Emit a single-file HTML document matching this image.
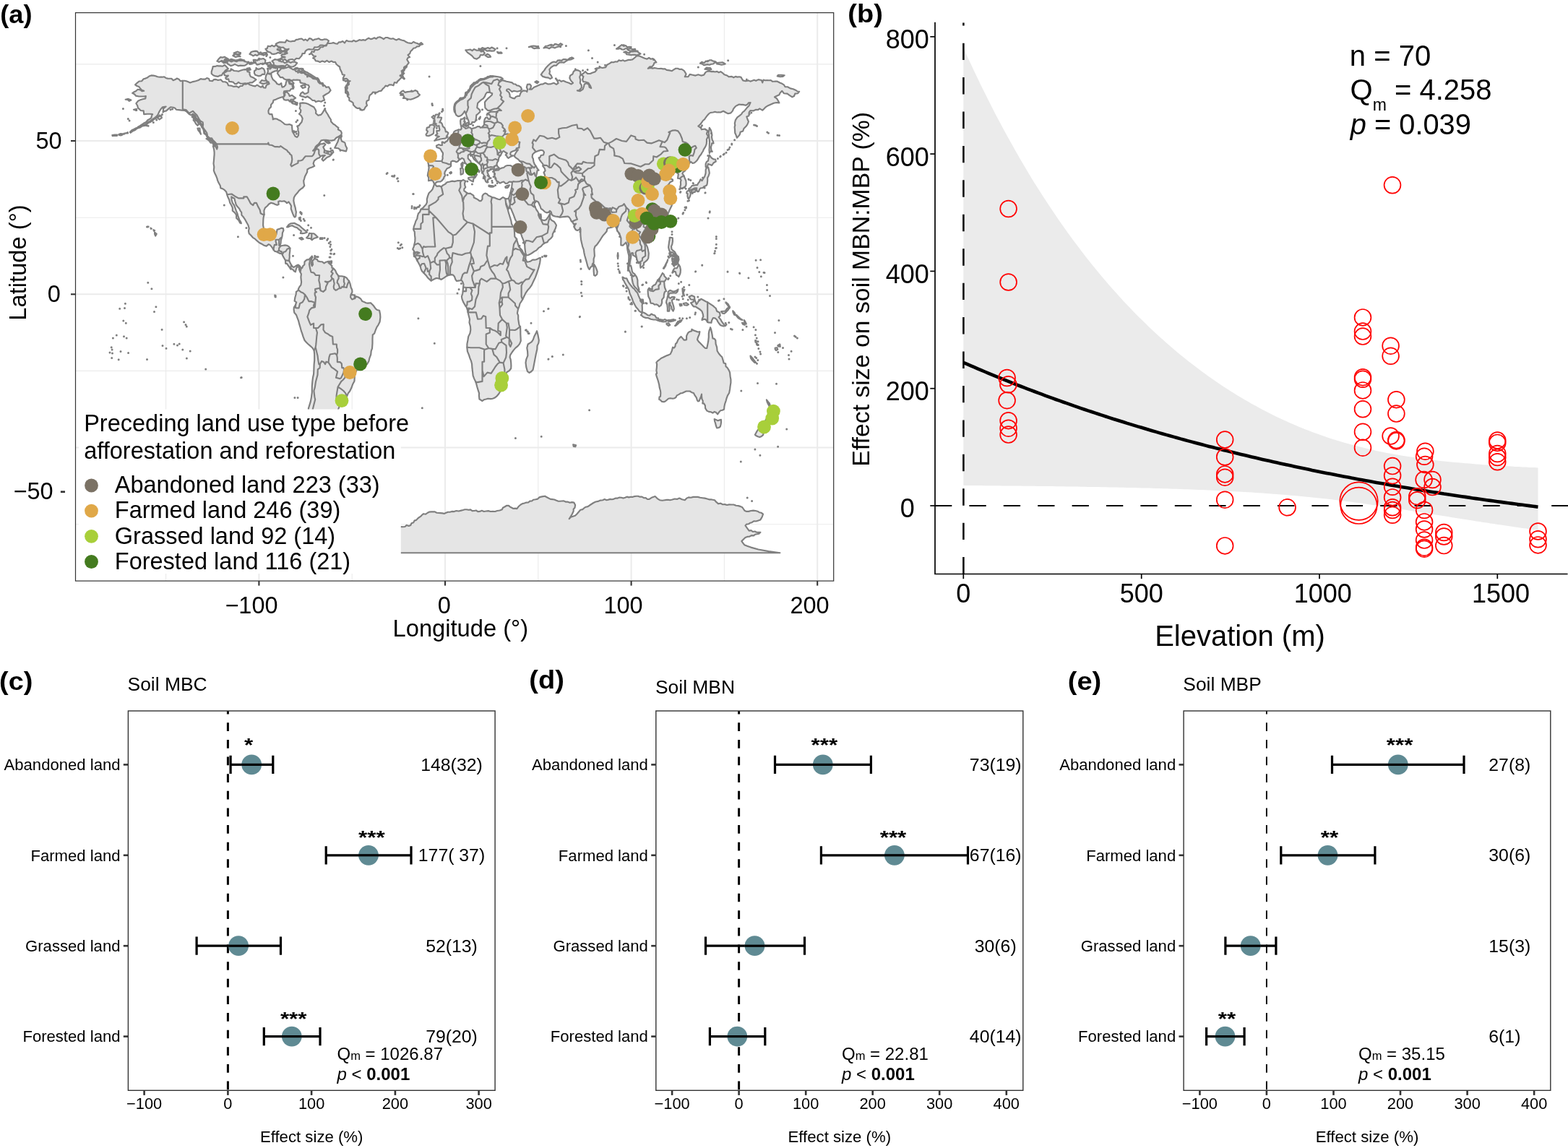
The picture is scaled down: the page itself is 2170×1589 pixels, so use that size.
<!DOCTYPE html>
<html lang="en"><head><meta charset="utf-8"><title>Figure</title>
<style>html,body{margin:0;padding:0;background:#fff}svg{display:block}text{font-family:"Liberation Sans", sans-serif;fill:#000}</style>
</head><body>
<svg width="2170" height="1589" viewBox="0 0 2170 1589">
<rect width="2170" height="1589" fill="#fff"/>
<g id="panel-a">
<clipPath id="clipA"><rect x="104.5" y="17.6" width="1049.2" height="786.5"/></clipPath>
<g clip-path="url(#clipA)">
<line x1="104.5" x2="1153.7" y1="88.9" y2="88.9" stroke="#ebebeb" stroke-width="1.1"/>
<line x1="104.5" x2="1153.7" y1="301.2" y2="301.2" stroke="#ebebeb" stroke-width="1.1"/>
<line x1="104.5" x2="1153.7" y1="513.4" y2="513.4" stroke="#ebebeb" stroke-width="1.1"/>
<line x1="104.5" x2="1153.7" y1="725.7" y2="725.7" stroke="#ebebeb" stroke-width="1.1"/>
<line x1="229.6" x2="229.6" y1="17.6" y2="804.1" stroke="#ebebeb" stroke-width="1.1"/>
<line x1="487.2" x2="487.2" y1="17.6" y2="804.1" stroke="#ebebeb" stroke-width="1.1"/>
<line x1="744.8" x2="744.8" y1="17.6" y2="804.1" stroke="#ebebeb" stroke-width="1.1"/>
<line x1="1002.4" x2="1002.4" y1="17.6" y2="804.1" stroke="#ebebeb" stroke-width="1.1"/>
<line x1="104.5" x2="1153.7" y1="195" y2="195" stroke="#ebebeb" stroke-width="2"/>
<line x1="104.5" x2="1153.7" y1="407.3" y2="407.3" stroke="#ebebeb" stroke-width="2"/>
<line x1="104.5" x2="1153.7" y1="619.6" y2="619.6" stroke="#ebebeb" stroke-width="2"/>
<line x1="358.4" x2="358.4" y1="17.6" y2="804.1" stroke="#ebebeb" stroke-width="2"/>
<line x1="616" x2="616" y1="17.6" y2="804.1" stroke="#ebebeb" stroke-width="2"/>
<line x1="873.6" x2="873.6" y1="17.6" y2="804.1" stroke="#ebebeb" stroke-width="2"/>
<line x1="1131.2" x2="1131.2" y1="17.6" y2="804.1" stroke="#ebebeb" stroke-width="2"/>
<g fill="#e5e5e5" stroke="#7f7f7f" stroke-width="2.15" stroke-linejoin="round" stroke-linecap="round">
<path d="M183.2 128.8l2.2-1.5l2.5-1.1l2.8-2.4l3.6 0.7l2.2 1.7l2.7-0.4l-2.9-1.1l-2.2-2.3l-1.9-2.5l-2.7-0.9l-2.4-1.7l2.6-2.5l2.8-2.3l3.6-0.3l2.6-2.9l2.6-0.7l2.5-1l2.6-2.1l2.9-1.1l3.3 0.2l2.8 0.6l2.6 1.1l3.2 0.4l3.2 0l2.9-0.4l2.3 1.7l2.5 0.6l2.7 0.2l2.6 0l2.3 2.4l2.8-1.1l2.4-1.6l2.7 1.2l2 2.5l3.2-0.4l2.6-0.1l2.5 0.5l2.6 1.1l2.6 1.1l3.9-1.3l3.8-0.9l3.9-1.2l3-1.9l3.4 0.6l2.9 0l2.3-1.7l2.8 1l1 2.8l3.9 0.4l1.8-2.1l3.1-0.2l2.8 1.1l3.8-0.8l2.7 2.9l3.4 0.2l3 1.5l1.5 3.4l3.7 0.4l3.8 1.3l3.9-0.5l2.7 1.7l2.4-2.1l2.6 0l2.6-2.9l2.7 0.5l2.4-1.4l2.6 2.1l3.9 1.3l3.8 0.8l2.6-1.9l2.6 1.9l2.9 1.4l2.3-2.2l1 2.7l2.8 0.3l1.3-3.8l3.9-1.7l-0.9-2.7l-2.5-1.2l-1.8-3.4l0.8-4.2l1.5-2.6l2.9-0.4l2.8 1.2l0.3 3.1l2 4.2l2.6 2.1l1.8 1.7l1.3 2.2l3.2 1.1l2.7-2l0.4 2.8l0.9 2.7l2.6-0.8l2.1-2.4l0.5-3.1l1.2-3.4l3.3-0.9l3.2 1.3l1.5 2l1.6 1.8l-1.7 2.3l-0.1 2.8l1.3 2.5l-3.3 0.4l-1.9 2.6l-3.9 0l-3.8 0.4l-0.6 2.9l1.9 2.2l-1.3 2.4l-2.6 0.6l-3.9 1.3l-2.5 0.8l-2.6 1.3l-3.1 1.1l-0.8 3.2l-2.6 2.9l-0.2 3.3l-2.3 2.2l-1.2 3.1l0.4 3.3l1.5 1.3l3.1 0l0.6 2.6l0.7 2.5l0 2.1l2.5-1.1l2.7 0.3l2.5 1.4l2.6 1.1l1.9 1.5l2 1.5l2.2 2l2.9 0.5l3.6-0.4l3.4 1.3l0.3 4.6l0.5 4.3l1.8 3l2 3.4l2.6 1.2l1.8-2.5l0.3-4.3l-1-2.9l0.2-3l-1.3-2.6l2.5-0.7l1.4-2.2l2.5-3l1.1-4.7l-1.8-3.8l-2.9-2.5l1.9-2.2l0.5-2.9l-1.8-2.6l1-3l-0.5-4.2l3.8-0.4l3.9 0.4l3.9 1.3l3.8 2.1l3.9 2.1l2.1 3.4l0.9 2.5l-0.4 2.6l3.3 3l3.6-0.9l2.1-2.1l2-3.4l1.6-2.5l1.5 3.8l2.6 3.8l1.2 2.4l1.4 2.3l1.6 2.3l0.2 2.8l3.3 3.4l2.2 1.2l1.7 1.7l3.1 2.2l-0.5 2.5l3.8 2.1l1.1 2.5l-0.3 2.6l-3.3 2.2l-3.9 2.1l-2.6 2.9l-3.8 0.9l-3.9-0.4l-3.9-0.5l-3.2 0l-3.2 0.5l-2.6 3.8l-1.6 2l-2.2 1.4l-1.7 1.9l-0.9 2.3l-2.6 3l2.6-0.8l2.2-2.6l1.6-3l2.1-1.2l1.8-1.7l2.6-0.2l2.6-0.7l1.8 1.7l-3.1 3.4l1.8 3.8l-0.5 3.9l3.1 0.8l3.3 1.3l3.1 0.8l3.3-3.4l-1-2.9l-2.6 0.8l0.6 2.5l0.5 2.6l-2.6 2.5l-3.9 1.7l-2.6 2.6l-2.5 2.1l-1.8-2.1l1.8-3.4l2.5-2.1l-3.8 0.4l-2.6 0.8l-0.8 1.7l-3.1 1.3l-2.5 1.7l-2.1 1.7l-1.3 3.8l1.6 3.4l-3.4 1.7l-3.8 1.3l-2.6 1.7l-0.3 3.8l-1.8 3.4l-1.3 2.6l-1 3.8l-0.8 2.1l0.3 3l0.8 3.8l-2.4 3l-2.5 1.7l-2.6 2.1l-2.1 3l-3.1 3.4l-1.8 3.4l-0.5 4.2l1 5.1l1.3 4.2l0.6 3.3l0.7 3.1l-0.4 2.8l-0.1 2.7l-1.3 1.7l-1.3-1.2l-1.5-3.4l-1.3-3.4l-1.3-3.9l0.3-3.8l-1.6-2.9l-1.8-2.6l-2.6 1.7l-1.5-1.7l-2.3-1.3l-3.1 0.5l-2.8-0.5l-2.1 0.9l0.5 3.8l-2.1 0.9l-2.5-0.9l-2.9-1.3l-3.1-0.8l-3 1.7l-2.1 2.5l-3.1 2.6l-1.5 3.8l0.2 5.5l-1 4.3l-0.3 4.2l-0.2 6.4l1 5.1l1 4.2l1.8 4.3l2.1 2.5l2.6 2.1l2.5-0.8l3.1-0.9l2.6-1.2l1.6-2.6l0.7-4.2l0.5-2.6l3.1-0.8l2.6-1.3l2.6 0.4l0.5 3l-1.5 3.4l-0.3 4.2l-0.8 3l-1 3l-0.3 4.2l-1.2 3l2 0.4l2.6-0.4l2.6-0.4l2.5 0.4l2.6 1.3l1.8 2.5l-0.2 4.3l-0.3 2.5l-0.3 2.6l0.2 2.7l-0.4 2.8l-0.3 2.5l1.6 3l1.5 3l1.6 2.1l1.8 0.8l2-1.2l1.8-1.3l2.1-0.9l2.1 1.3l2 3l-0.7 2.7l-0.6 2.8l-1.3-3l-0.2-3.8l-2.6-0.4l-1.3 3l-1 4.2l-1.6-0.8l-1.8-2.2l-2-1.2l-1.3 0.4l-1.6-2.6l-2.5-3.4l-1.1-1.7l-1.8 0l-0.2-4.2l-1.8-3.4l-1.3-2.1l-1-2.1l-1.1-2.2l-2.5 0l-2.6-1.2l-2.1-1.3l-2.3-0.4l-1.8-2.2l-2.1-3.4l-2.3-2.9l-2.3-1.3l-3.1 2.5l-3.1-0.8l-3.3-2.1l-3.4-1.7l-3.1-2.6l-2.6-2.5l-3.3-2.1l-2.6-3l-2.6-2.6l-0.7-3.4l0.7-3.8l-1.2-4.2l-2.1-3.8l-2.6-4.7l-2.3-3.4l-2.1-2.1l-0.2-3.9l-1.6-2.1l-1.5-3l-2.3-2.5l-2.1-3l-1.3-4.6l-1-3.9l-2.6-1.2l-1.5-1.3l0.2 4.2l1.3 4.3l2.3 3.4l1.3 3.4l1.3 3.8l1.8 4.2l1 3.9l1.6 4.2l2.3 3.8l0.5 1.7l-1.8-0.8l-2-3.8l-2.9-2.6l-0.2-4.7l-2.1-2.9l-3.1-2.6l0-4.2l-1.5-3.4l-2.1-3.4l-1-4.3l-2.1-4.2l-1-3.4l-1-3.4l-2.4-2.6l-2.5-1.6l-2.9-0.9l-0.5-3.4l-2.6-4.7l-1.2-2.9l-0.6-2.6l-1.2-3l-2.1-4.2l-1.3-3.8l0.5-4.7l-0.8-4.7l0.3-2.9l0.3-3l0.2-3.2l0.3-3.2l0-3.4l-0.5-4.2l-1.3-4.3l3.6 0.5l1.8 3.8l0.8-3l-1.3-4.2l-1.8-2.2l-3.4-3.4l-1.4-2.5l-3 0l-3.1-2.5l-0.7-4.7l-2.6-3.8l-2.3-1.6l-0.8-2.7l-0.8-3.4l-3.3-3l-1.8-3.4l-3.4-2.9l-1-3.4l-3.3-2.1l-2.1 1.7l-3.1-1.3l-3.3-3.4l-2.6-1.7l-4.4-0.4l-3.9-0.5l-3.8-0.4l-1.5-2l-2.4-1l-3.9-0.4l-2.5 2.1l-3.4 3l-2.5 0.6l-2.1 1.5l0.4-2.5l0.1-2.6l3.6-2.9l-4.6 0.8l-2.6 3l-2.1 3.4l-1.5 3.4l-1 2.5l-2.4 1.3l-2.8 3.4l-1.7 2.1l-2.4 0.9l-2.6 0.5l-1.5 2l-2 1.5l-2.4 0.6l-4.4 1.7l-4.1 1.3l3.3-2.5l3.9-2.6l3.9-2.1l1.4-2.2l2.4-1.2l3.1-2.5l0.3-2.5l1.3-2.2l-3.4-0.4l-3.9 0l-4.6 0.4l-0.5-4.7l-3.9-0.4l-1.8-1.8l-2-1.6l-0.8-3.4l-1.8-3l2.6-3.4l2.5-1.2l3.9-1.3l3.9-0.9l0.5-3.4l-2.6 0.5l-3.1 0l-3.9 0l-4.3-0.9l-1.6-2.1zM428 75.3l2.1-1.1l1.2-2.9l3.1 0.6l1.6-3.2l3.5 0.4l2.6-1.4l1.5-2.5l3.1 0l1.9-1.8l3 0l1.5-3.7l3.2 0.3l2.6-0.3l2.5-0.6l2.7 1.2l2.7 0.4l2.3-2.4l2.6 0l2.6-1.2l2.7 2.4l2.4-3.5l2.6 1.1l2.6 0.1l2.6 0.3l2.4-1.7l2.8 1.7l2.5-1l2.5-1.4l2.7 0.7l2.5-0.7l2.7 0.7l2.4-1.7l2.5-1.4l2.8 1.4l2.5-0.5l2.5-1.3l2.7 1.4l2.4-2l2.6-0.5l2.7 1.2l2.5 1.7l2.7-2.1l2.6 0l2.5 1.1l2.6 0.7l2.6-0.6l2.4 1.2l2.5 1l3-1.6l2.4 1.2l2.6 0.8l2.7 0.6l2.4 1.7l2.6 1.1l2.5 0.4l2.6 0.4l2.7-2.1l2.5 1.4l2.6 0.7l2.4 1.3l3-2.3l2.3 2.3l-3.1 0.6l-2.1 2.4l-2.8 0.1l-2.2 1.9l-2.7 0.5l-1.8 2.3l-2.1 1.9l-1.1 3.2l-2.7 1.9l2.6 3l-2.6 1l-1.3 2.4l1.3 2.1l1.3 2.2l-2.6 3.4l-0.5 2.7l-2.1 1.9l-1.5 3.3l-3.6 0.1l2.3 1.3l1.5 2.1l-2.2 2.2l0.9 2.9l-2.9 1.1l-2.2 2.3l-2.3 2l-1.6 2.7l-3.1-0.8l-1.4 4.3l-3.2-1l-2.6 0l-2.4 2.1l-2.7-0.8l-1.7 2.4l-2.2 1.8l-1.9 2.8l-3.2 0.6l-2.4 1.5l-2.8 0.2l-3.2-0.4l-2 2.6l-2.3 1.5l-1 2.7l-0.5 4.3l-2.8 1.2l-0.6 3l1 3.1l-2.3 2.4l-1.8 3.4l-3.3 0.9l-3.1-3l-2.7 0.4l-2.4-1.3l-3.4-3.4l-0.3-2.8l-2.3-1.8l-3.1-1.6l0-3.5l-2.4-2.3l-0.1-3.2l-2.8-1.8l0.2-3.3l-0.5-4.3l2.6-1.9l0.5-3.2l1.2-2.5l2.6-0.9l-3.2 0.1l-3.2-0.5l-3.2-0.6l-0.2-3.2l2.1-4.3l-3-0.5l-0.9-2.9l-1.2-2.5l-1.3-2.6l-0.3-2.7l-2.3-1.5l-2.5-2.2l-1.4-2.9l-2.7 0.1l-2.4-1.4l-3.5 1.4l-3-2.2l-3 2l-3.4-1.2l-3.2 1.4l-3.3-1.4l-2.7-0.4l-1.4-2.6l-2.3-1.2l3.9-2.6l-3.2-0.3l-2.3-3.2zM408.6 94.4l2.7-0.7l2.4 2.4l2.7-1.3l2.9 0.2l0.9 2.8l2.6 1.4l2.6 1.1l2.5 1.7l2.6 1.3l3.9 2.6l2.3 1.6l2.8 0.5l1.6 1.9l1 2.3l1.8 3l2.9 1.8l3 1.6l1.6 2.3l3.5-0.6l1.4 2.5l1.3 2.2l-2.6 3.4l-3.9 2.1l-3.8 2.5l0.8 2.8l1 2.8l-2.4 0.7l-2 1.4l-3.9-0.9l-3.8 1.3l-1.7-2.1l-2.7 0l-3.4-3l-3.8-2.5l-2.5 1.5l-2.7-1.1l-2.7-0.5l-2.4-1.2l1.3-3l2.5-1.9l2.6 2.6l2.6-0.7l2.5-1.3l0.1-2.9l0-2.5l1.3-2.2l-1.2-2.5l-2.7-0.5l-2.3-1.6l-2.9-0.5l-3.3-0.8l-0.5-3.4l-3.9-0.5l-2.6 0.2l-2.5-0.2l-3.4 1.6l-3.1-2l-3.3 0.3l-3.1-1.1l-2.1-2.2l-3.1 0l-2.6-3.4l-1.5-2.5l1.5-2.6l2.2-1.7l1.7-2.1l3-2.2l3.5 1.4l3.3-1.4l3.1 1.8l3.9 2.1zM384.2 82.5l2.3 2.1l3-3.1l2.4 1.9l2.5-1.5l2.7 2.9l2.5-1.9l2.6-0.6l2.6-0.2l2.5 1.3l2.8-2.6l3.7 0.4l1.9-2.1l1.9-2.1l0.9-2.9l3-0.1l1.3-3.4l2.3-1.8l2.6-0.7l2.8 0.4l3-0.1l1.7-3.1l3.1 0.2l2.7-0.6l2-2.3l3 0l3.4 0.6l2.5-1.1l1.8-2.9l1.3-2.6l-2.8-2.1l-3-0.3l-3.2 1.1l-2.6-0.4l-2.4-1.7l-2.7 0.9l-2.6 0.4l-2.6 1.4l-2.6-2.3l-2.5-0.5l-2.6 3.3l-2.6-1.9l-2.5 1.3l-2.7-2.3l-2.6 0.2l-2.5 0.9l-2.6 0.3l-2.3 2l-2.6 0l-2.6 0.6l-2.8-0.5l-2.8-1.6l-2.2 3.4l-2.6-0.3l-2.7-0.2l-2.8 0.1l-2.5 1l-2.4 1.5l2.6 3.4l2.5 0.6l2.5 0.8l2.7-0.2l2.2 2.1l2.5 0.9l3-0.8l-2.7 2.5l-3.7-0.4l3.8 2.1l-2.4 3.2l-4-0.2l-1.3 2.1l2 2.6l3.2-0.5l-3-0.9l-2.2 2.2l-2.4 1.5zM371.3 71.9l2.7 0.6l2.2 2.1l2.8 0.3l3-0.6l2.9-1.5l3.1 1.2l2.6-3.4l-2.1-1.6l-0.5-2.6l-2.5-0.6l-1.6-2.2l-2.3-1l-2.3 1.8l-3.1-1.6l-2.3 1.5l-3.1-0.6l-1 3.2l-2.4 0.8l1.7 2.3zM379 90.2l2.5 0.7l2.6 0.9l2.6-0.5l2.6-0.3l2.6 0.1l2.6 0.8l2.5-2.8l2.6 1.9l3.1 1.6l3-0.3l2.9-1.7l2.6-3.4l-3-1.6l-3.4-0.1l-2.5 1.3l-2.7-1.5l-2.6 0.6l-2.9 1.3l-2.3-2l-2.7 0.2l-2.4-1.6l-3.1-1.1l-3.3-0.6l-3.9 2.5l2.2 2.4zM313.3 109.7l2.9-0.3l0.9 3.6l2.7 0.1l3 0.6l2.1 2.4l2.6 0l2.5-2.3l2.6 1.8l3.3 0.1l3.2-0.5l3.4 0.7l3-1.5l3.6 0l2.9-2.2l2.5-2.1l-3.8-2.5l-3.9-1.7l-1.3-2.9l0-3.1l-2.9-0.6l-0.9-2.8l-2.6-0.4l-2.6 0.4l-3.9 1.3l-2.5 1l-2.6-0.6l-3.5-0.2l-3-1.9l-2.8 2.2l-3.6-0.1l-2.1 1.5l-2.5 0.6l0.7 3.9l2.6 0.9l2.6-0.5l-1.7 1.8l-2.2 1.2zM292.7 102l2.5 2.2l3.2 1.2l3.1 0.5l2.8-1.3l2.7-0.5l1.2-2.5l2.1-1.9l1.7-2.3l3.9-2.2l-2.6-2.9l-2.3-2.3l-2.8 1.7l-2.6-0.3l-2.6 0l-2.6-0.3l-2.5 0.8l-3.2 0.2l-0.7 3.1l-1.3 3.9zM314.6 88l2.4 1.5l2.3 1.6l3-0.9l2.7-1.3l2.5 1.2l2.5 1.2l2.6-0.7l3.2 0.3l3.1-0.2l2.8-1.8l2.5-3.4l-2.7 0.3l-2.6-0.7l-2.4-1.3l-3.9-2.1l-2.9 1l-3 0.8l-3.1 0.3l-3 1.6l-3-1.2l-3-0.4zM353.2 103.7l2.6 0.9l2.5 0.7l2.7-0.7l2.2-1.9l2.9 0.2l0.5-2.6l-0.5-2.5l-1.2-2.6l-2.6-1.2l-2.6 1.4l-2.6 0.5l-2.6-1.9l-0.1 2.8l-2.4 1.4l-0.1 2.9zM370 101.6l3.5 1l2.9-2.3l2.2-1.1l2.2-1l2.6 0l0.8-4.2l-2.5-1l-2.8 0.9l-2.5-1.2l-2.6 2.8l-3.8-0.7l1 3.4zM359.7 114.4l2.4 1.2l2.7 0.5l2.6-0.8l2.6-0.5l-1.3-3.4l-3.3 0.4l-3.1-0.8zM348.1 87.6l2.6-0.1l2.7-0.7l2.3 2.8l2.7-0.7l2.5-0.8l2.7 1l2.5-1.1l0.9-2.2l0.4-2.4l-2.8-2.4l-3.6 0.7l-2.7-0.9l-2.3 3l-2.7-1l-2.6 0.1l0.4 3.3zM300.4 84.6l2.9 1.3l3.3-1.8l2.9 1.4l3.1 0.3l0.6-3.8l2.7-0.3l-2.6-1.6l-2.6-1.4l-2.5 0.9l-3-0.5l-2.2 2.1zM345.5 74.9l2.5 0.9l2.4 1.6l3-1.6l2.4 1.2l2.4-1.9l2.6 0.1l2.8 0.9l-2.6-3.8l-2.8 1.5l-2.3-2.9l-2.6-0.3l-2.6 0.4l-3.2 1.1zM391.9 135.6l1.2 2.4l2.7 0.6l3.1-0.4l2 2.5l1.7-3l3.5 0l3-2.1l-3-2.1l-1.9-1.7l-3.4 1.2l-1.2-2.9l-2.6-3l-3.8 2.1l0 3.3zM463.2 204.8l4.7 0.4l3.8 2.6l3.9 0.8l3.4 0.9l1.2-4.3l-2-3.8l-0.8-3.8l-2.1-1.2l-2.3-1l-1.3-3.8l1.3-3.4l-3.3 2.1l-1.2 2.7l-0.9 2.9l-1.2 2.3l-1.1 2.3zM449.8 195.4l2.4 2l2.8 1l1.8-0.8l-3.1-2.2zM450.4 208.6l2.2 1.3l2.4 0.8l1.3-0.8l-3.9-0.9zM285.5 192l2.4 1.4l2 1.9l1.5 2.3l2.9 0.2l1 2.7l2.8 1.3l-1-3.4l-2.8-1.3l-1.1-2.9l-2.3-1.4l-2.1-1.6zM273.4 177.6l0.9 2.6l1.7 2.1l2 3.4l-1.3-4.3l-0.2-3.8zM218 163.2l2.6 2.1l3.3-2.1l-0.7-3l-3.4 0.9zM173.7 137.7l2.9 0.3l2.3 1.8l2.5-1.2l-3.8-1.7zM185 151.7l4.2 1.3l-0.3-2.1zM265.7 161.9l2.3 1.5l-0.3 3.1l1.8 1.8l1.5 3l2.4 2.5l1.8-2.1l-1.5-2.8l-1.6-2.8l-2.6-1.9l-0.7-3.1zM397 314.3l2.6-3.4l3.1-1.7l4.6-0.4l3.4 1.7l3.6 1.7l3.3 3l3.4 2.9l2.1 1.6l1.8 1.8l-3.4 1.3l-2.8 0.3l-2.9-0.1l1.1-3.2l-3.1-2.1l-2.6-2.5l-3.9-1.3l-3-1.7l-3.4 0.8l-2.1 1.3zM424.1 329.2l2.8-3l1.1-3.4l3.3 0.4l3.1 0l2.6 2.2l2.8 2.9l-2.8 0.9l-2.6 0.8l-2.6 2.2l-2.6-2.2l-2.5 0zM414.3 329.6l3.3-0.8l2.1 2.1l-2.6 0.8zM442.9 329.2l3.9 0l-0.3 1.7l-3.6 0zM456.5 361.9l2.6-0.5l-0.2 3l-2.4 0zM413.8 301.6l2-0.9l-0.2 3.9l-1.3-0.5zM415.6 293.1l2 1.7l-0.2 2.1l-2.1-2.5zM416.6 370.8l1.6 0l1.3-3l1.8-1.3l0.2-4.2l1.8-1.7l1.6-1.3l2.5 0l2.4-2.5l2-2.1l0.8 1.7l-1.8 2.1l0.8 2.5l-1.1 3.8l1.3 3.4l1.3-2.1l-0.8-4.7l2.6-2.9l0.8-2.6l0.8 2.6l2.3 0.4l1.3 2.5l3.3 0.9l2.6 0l2.6 2.1l1.8-1.3l3.3-1.2l2.6 0l-1.6 2.1l2.1 1.7l2.6 2.1l0 3l2 0.8l2.6 2.6l1.6 3.8l2.8 3.8l2.1 0.5l2.5 0l3.9 0.8l2.6 1.3l1.8 2.5l1.8 2.1l1.5 3.9l1.1 5.1l1.5 2.9l0.3 3.4l-1.6 3l2.6 0.8l2.6 0.5l0 4.6l1.8-2.9l3.3 1.2l3.1 2.2l2.1 3.4l2.5 0.8l2.6 1.3l2.6 0.4l3.9-0.4l3.8 3.8l3.1 4.3l2.1 1.7l3.1 0.8l1 5.1l0.3 4.2l-0.8 6.4l-2.1 4.3l-1.8 2.5l-1.8 4.2l-1.8 5.1l-2.3 1.7l-0.3 5.6l0 6.3l-0.5 7.2l-1.3 3.4l-0.5 5.1l-1.8 4.7l-1 4.3l-2.3 4.2l-2.9 0.8l-3.3 0.5l-2.6 2.9l-2.6 0.9l-3.1 3.4l-2.5 4.2l-0.3 5.1l-0.3 5.6l-2.3 4.2l-1.8 5.1l-2.3 4.7l-2.3 2.9l-1.6 3.9l-2 3.4l-2.1 2.5l-3.1 0.8l-2.5 0l-2.6-1.7l-2.3-1.6l0.2 2.5l2.3 2.5l0.6 3.4l1 2.6l-2.1 5.1l-2.3 3l-3.9 1.2l-3.8 0.9l-1.8 0l-0.3 6.3l-3.1 2.6l-3.8-0.4l0.5 3.2l0.7 3.1l-2 4.3l-0.5 2.7l0.2 2.8l-2.8 1.7l-2.6 3.4l2.1 4.2l2.3 2.2l-1.8 4.2l-0.9 2.6l-2.2 1.7l-2.8 3.4l-0.5 2.9l-0.3 3l1.5 2.5l-2.5 0.5l-3.4 1.7l-1 3.8l-3.4-0.9l-2.8-2.9l-2.8-3.4l0-3.4l-1.6-3l0.4-2.9l-1.2-2.7l0.3-2.9l1.5-2.2l0.7-2.4l0.4-2.6l-0.4-2.6l-0.2-2.5l0.6-2.5l1.2-2.6l1.4-2.5l0.4-2.6l0.2-2.6l0.7-2.5l-1.9-4.2l0-6.4l0.8-6.4l0-3.4l1.6-5.1l1.3-4.2l1.2-6.4l0.8-6.3l0-8.5l0.5-6.4l0.8-6.4l1-4.2l0.3-6.4l0.2-6.4l0.6-6.3l0-8.5l-0.6-5.1l-2.5-3.8l-2.9-2.6l-2.5-2.1l-2.6-2.5l-2.6-3l-2-5.1l-1.3-4.3l-1.3-3.4l-1.3-5l-1.3-4.3l-1.3-5.1l-1.8-4.7l-1.3-3.4l-2.6-2.9l-0.7-4.3l0.2-2.9l2.3-3.9l1.1-3.4l-2.6-1.7l0.8-5.1l1.3-4.2l0.2-3.4l2.6-1.7l0.5-2.5l1.6-3l1.8-2.1l0.7-4.3l-0.5-4.2l-0.2-2.6l0.5-4.2l-1.6-3l1-2.7zM433.1 631.9l3.9-1.3l2.5 0.4l1.3 3.4l1.7 2.4l2.2 1.9l3.3 0.8l-3.3 1.3l-2.6 0.6l-2.6 0.7l-2.5-0.6l-2.6-0.7l-3.9-2.5l2.6-2.6zM458.3 625.9l4.4-0.8l4.4 1.3l-2.6 2.5l-4.3 0zM485.4 408.1l3.1 0l2.6 1.3l-0.8 3.8l-3.1 1.3l-2.1-3zM600.8 255.3l1.5 0l2.1 2.6l3.4-0.5l3 0.9l2.6-2.1l2.6-1.3l2.6-2.6l3.8-0.8l3.4-0.9l3.1 0.5l3.8-0.9l2.6 0l3.4 0l2.5-1.3l1.8 1.3l1.6 0.4l-1.6 2.6l0.3 3.4l1 2.5l-2 2.6l0 2.5l2 1.3l1.6 1.3l2.3 1.2l2.6-0.4l2.6 1.7l2 1.3l0.5 3l2.6 1.2l2.6 1.3l2.6 2.1l2 0l1.8-2.5l0-4.3l1.6-2.5l2.3-1.3l2.6 0.9l1.8 2.1l3.3 1.3l1.8 1.2l3.4 0.5l2.5 1.2l2.6 0.9l2.6 0.4l2.1-1.7l1.8-1.3l2 0.9l1.3 0.8l0.5 3l0.3 2.6l0.2 2.5l1.3 3.8l1.3 3.4l0.8 3.4l1.3 4.3l1.3 4.2l1.2 3.8l0.6 3.9l1.5 2.9l1.6 2.1l0.7 3.4l0.3 5.1l0.2 4.3l2.1 2.5l1 2.6l1.6 5.5l1 3.4l2.3 2.5l2.1 2.2l1.8 3.8l1.8 2.5l1.5 1.7l0 2.6l-1.2 1.3l1.2 0.8l1.8 3.8l2.6-0.4l2.6-0.9l2.6-1.7l2.5 0l2.6-0.4l3.4-1.7l2.3-0.8l-0.3 3.8l-0.5 3.4l-1.5 5.9l-1.3 4.3l-1.6 4.7l-1.8 5l-2.5 5.1l-2.6 5.6l-2.6 3.8l-3.1 3.4l-2.6 3.8l-2.5 5.1l-1.8 3.8l-2.1 3.4l-1.5 2.1l-1.1 4.3l-1.5 3.4l-1.1 5.9l1.3 3l0 4.7l0.6 4.2l0.7 4.3l1.6 3.4l0.2 5l0 4.3l0.3 5.5l0.2 3.8l-1.8 4.3l-2.5 3l-3.1 2.5l-2.6 3l-2.1 2.9l-2.5 3.9l-0.6 2.9l1.1 3.4l0.5 4.3l0.2 4.2l-0.2 3.8l-2.3 3l-3.4 2.1l-1.3 2.6l0.6 4.2l-0.8 5.1l-1.6 3.4l-2 3.8l-1.8 3.9l-1.8 2.9l-2.6 4.3l-2.6 3l-3.3 2.5l-2.6 0.9l-2.6 0.4l-3.9-0.4l-2.5 0.8l-3.1 0.8l-2.1 1.7l-2.6-1.7l-1.5-0.8l-0.5-5.1l0.2-3l-1.5-4.6l-1.3-4.3l-1.3-5.1l-0.8-2.1l-2-4.2l-1.6-4.3l-0.5-5.1l-0.7-5.5l-0.3-5.1l-1-4.2l-1.8-4.3l-1.3-4.2l-2.1-5.1l-0.5-4.7l0-5.5l1-5.1l0.8-5.1l2.3-4.7l0.8-4.7l-0.3-4.6l-1.5-5.5l0.5-4.3l-1.3-5.1l-1-4.2l-0.8-4.3l-1.3-3.4l-1.8-2.5l-2.6-4.3l-1.8-4.6l-0.5-3.4l1.3-3.8l0.5-3.9l0.3-4.6l0.5-4.3l-1-3l-1.6-2.5l-1.8 0l-2.6 0.4l-2.5 0.4l-1.6-2.1l-1.5-4.2l-1.8-2.1l-2.6-0.5l-2.6 0.5l-2.8 0.8l-1.8 1.3l-2.6 1.7l-2.6 1.7l-1.8 0.8l-2-1.3l-2.6-0.4l-2.6 0l-2.6 1.3l-3.8 2.1l-2.1-1.7l-2.3-2.1l-2.1-3l-2-2.1l-1.8-2.1l-2.3-2.1l-1.6-3.4l-0.8-3.4l-1.8-3.4l-1.8-3.4l-1.3-2.2l-1.5-3.3l-2.3-1.7l-0.3-3.9l0.5-2.9l-2-3l1.5-3.4l0.8-3.4l0.8-4.2l0.2-4.3l-0.5-4.2l-0.2-4.3l-1.6-3l0.5-4.2l1.6-4.2l1-3.4l2.1-3.9l0.5-3.4l1-3.4l2.1-2.1l1.5-3.8l2.6-1.7l2.6-3l2-2.1l1.3-3l-0.2-4.2l1.2-4.3l1.6-4.2l3.1-3l1.8-2.1l1.3-3.4zM743 458.2l1.5 5.6l1.3 7.2l-0.5 3.8l-1.8 3.8l-0.2 4.7l-1.6 7.2l-1.3 6.8l-1.3 6.8l-1.5 7.6l-2.3 2.6l-2.9 1.7l-2.5-2.1l-1.6-5.6l-0.8-6.3l0.8-4.7l2.1-5.1l-0.3-5.5l-0.8-5.1l1.3-5.1l2.6-1.7l2.6-1.7l2-3l1.6-4.6l2.1-3.9zM704.1 274.4l1.3-4.2l0.8-3l1.2-4.3l0.8-4.2l0.5-4.2l0.3-2.6l-1.8 0l-2.3-0.4l-2.6 2.1l-2.6 0.4l-2.6-2.5l-2.5 0.8l-2.6 1.3l-2.6-2.1l-2.6-1.3l-0.5-3.4l-2-3l0.7-3.4l-1.5-2.1l0.8-2.1l2.5-0.4l3.1-0.4l1.6-1.7l3.1-1.3l2.5-0.4l2.6-2.2l2.6-0.8l3.9 0l2.5 1.3l2.6 2.5l3.1 0.4l3.4 0l2.5 0l2.6-2.1l0.3-3.4l-1.6-3l-2.6-2.1l-2.5-2.5l-2.6-1.7l-2.1-2.2l0.8-2.5l1.8-3l2.6-3.4l-2.6 0l-2.3 1.3l-2.8 0.9l-2.4 1.2l-0.7 2.6l1.2 1.7l2.6 0.4l-1.8 0.8l-2 0.9l-2.6 1.7l-1.3-0.9l-1.3-2.5l-1.3-0.9l2.1-2.5l-2.6-1.3l-2.1-1.7l-1.8 0.9l-1.5 3l-1.3 2.5l-1.8 2.1l-0.8 3l-0.5 2.5l-1.3 1.7l-0.7 3l1 2.6l2.3 2.1l-1.8 0.8l-2.1 0.5l-1.8 1.2l-1.8 0l-2-1.2l-2.6 0.4l-1.3 2.1l-1.3 0.9l-0.8-1.7l-1 0.8l0.5 3l1.1 2.1l-1.1 1.7l2.6 2.1l0.5 2.1l-2 0.9l-1.1 1.7l0.8 2.5l-1.8 0l-1.5-1.2l-1.3-3.4l0.5-3l-1.8-2.1l-1.3-3l-1.3-2.1l-1-2.6l0.2-3.8l-0.7-2.1l-1.8-2.1l-2.6-2.2l-2.6-2.1l-2.6-2.1l-1.8-3.4l-1.3-2.1l-1.5 0.8l-0.3-2.5l-2.5 0.8l-0.8 1.3l0 3.8l1.8 2.1l1.8 1.7l0.8 3.4l2 2.2l2.6 0.8l0.8 1.7l2.3 2.1l2.6 2.2l1.3 1.7l-0.8 1.2l-2.6-2.5l-1.5 1.7l-0.3 2.1l1.5 2.1l-1.2 2.1l-1.3 2.2l-1.1 0.4l0.3-3l0.8-3l-1.3-2.9l-1.8-1.3l-1.6-2.1l-2-2.1l-2.6-1.7l-2.1-2.6l-2.3-2.1l-1.3-3.4l-0.7-2.1l-2.6-1.3l-2.1 1.7l-1.8 0.8l-1.8 2.2l-2 0.8l-2.6-1.3l-2.6-0.4l-2.1 1.3l-0.2 3.8l0.2 2.1l-2.5 2.2l-3.1 1.2l-1.3 2.2l-1.6 2.5l-0.5 2.5l1.1 2.2l-1.8 2.5l-0.6 2.1l-2.5 3l-1.8 1.3l-2.6 0l-2.6 0.4l-2.1 2.1l-1.8-0.4l-1-2.5l-1.5-1.7l-2.6 0.4l-2.3 0.4l0.2-4.2l-1.5-3l0.5-3.4l0.8-3.4l0.5-4.2l-0.5-3.9l-0.8-3.4l3.1-2.9l2.6 0.4l3.8 0.4l3.1 0.4l3.4 0l3.1 0l1.3-3.8l-0.3-2.5l0.5-2.6l0-2.5l-2.1-3l-1.2-2.5l-2.6-1.3l-2.6-0.9l-0.5-2.1l3.1-1.7l2.6 0.9l2.3 0l-0.3-4.3l1.3 0l2.3 1.3l1.6-1.7l2.3-1.3l1-2.5l2.3-2.2l2.1-1.2l1.8-2.1l1.3-2.6l0.8-2.1l1.8-1.3l2.5-0.8l2.1-0.9l2.6 0.4l1.3-1.7l-0.5-3.4l-0.8-2.9l-0.3-4.3l0.8-2.5l2.6-0.4l2-1.7l0.8-0.5l-0.5 3.8l-0.5 2.2l1.5 0l-1.3 2.9l-1.5 1.3l-0.3 2.1l1.1 1.3l2 0.9l0.5 1.2l2.6-0.8l1.3-0.9l2.6 0.5l1.8 1.7l2-0.9l3.4-0.8l2.6-1.7l3.1 0l1.2 1.7l2.1-0.5l1.8-2.1l1.3-1.7l0-3.8l0.5-3.4l1.6-2.5l2-0.5l1.8 2.6l2.1 0l0.8-3l-0.3-2.1l-2.1-1.3l-0.2-2.5l2.8-1.3l3.9 0l3.8 0l1.8-0.9l2.6-1.2l2.6 0.4l-1.8-1.3l-2.6-1.7l-2.6 0.4l-3.8 0.5l-3.9 1.7l-3.9 0.4l-1.8-1.7l-2-2.1l-0.3-4.3l-0.2-3.4l1.8-2.5l2.5-2.6l3.4-2.9l2.3-2.2l0.3-2.1l-3.4-1.3l-3.8 0l-1.8 2.2l-1.3 3.4l-2.1 2.9l-2.6 1.7l-2.5 2.2l-2.6 2.5l-0.5 3.4l-0.3 3l1.6 1.2l2.3 2.2l0.2 2.1l-2.5 2.5l-2.6 2.2l-0.3 3.8l-0.8 4.2l-1.5 1.7l-3.3 0l-0.8 2.6l-3.1 0.4l-0.5-2.6l-0.8-2.9l-1.3-3l-1-2.5l-1-3.4l-1.1-2.2l-0.8-1.7l-1.8 3l-2.5 2.6l-2.1 1.2l-2.6 0.5l-2.5-1.7l-1.3-2.6l-0.8-4.2l-0.5-4.3l0.2-3.4l1.8-2.5l2.6-1.7l3.1-2.1l3.9-1.7l2.5-2.6l1.9-2.5l2-3l2.1-2.6l1.8-3.4l2.6-2.9l2.5-2.6l2.6-2.1l2.6-2.5l3.3-1.7l3.1-0.9l3.9-0.8l3.8-1.7l3.9-1.7l3.4-0.5l3.8 0.5l3.1 0.4l3.9 0.8l2.6 1.7l-3.1 1.7l3.8 0.9l4.4 1.3l3.9 0.8l3.8 0.9l2 1.8l2.7 0.3l1.8 1.8l2.6 0.3l3 2.1l1.3 3l-2.3 2.1l-3.9 0.9l-4.6-0.9l-2.8 1.2l-2.3-2l-2.1-1.7l-2.6 0.4l-0.5 1.7l3.4 2.5l1.2 3.4l0 2.6l3.1 1.7l3.4 0.8l1.8-2.5l2.6-0.9l2.5 0l0.8-2.5l1.3-3l3.1-2.1l3.9 0.4l1.2 1.3l0.8-3.4l-1.3-3l1.1-3.8l3.3-0.4l1.8 2.1l-0.5 3l-1.8 2.1l3.1 0l3.3-3l3.1-1.3l3.9-1.6l2.4-1.2l2.7-0.1l3.4-1.7l3.9 1.7l4.3-0.4l3.9-1.3l3.3 2.1l2.6-1.7l-1.3-3.4l3.1-0.8l2.4 1.8l2.8-1l3.8 1.7l3.9 1.3l3.4 1.7l2.3-1.7l-3.1-3.4l-1.6-3.4l0.8-3.4l3.4-2.1l1.2-3.4l2.6-2.2l3.9 0.5l3.1 1.7l0.2 4.2l-1.3 3.4l1.1 4.3l-0.5 3.8l2 3l0 3.8l-3.3 3.4l-2.6 0.4l3.9 0.8l3.8-2.5l1.3-3.8l0.8-3.4l3.1-1.3l3.3 2.1l0.5 3.4l2.6 1.3l-1.3-3.4l-2.5-3.8l-3.9-1.3l-3.4-0.4l-1-3l1.3-4.2l-2.8-2.2l3.3-2.5l2.1-2.1l3.1 2.9l3.8 0l2.6-1.2l3.9-1.3l2.5-3l-2.3-1.3l2.4-0.9l2.5 0.1l2.5-1.2l2.7 0.8l4.6-0.9l1.8-3.4l3.9-2.1l2.3-1.6l2.8 0.3l2.5-1l2.7 0.2l2.2-2.1l2.9 0.8l2.7-0.9l2.5 1.3l2.5-0.9l2.6-0.8l2.6 0l2.6-0.4l2-1.3l1.9-1.7l2.5-2.2l3.4 0.1l3.1 1.3l3.8 1.7l3.9 1.3l2.6-1.7l2.5 1.7l2.9-0.6l2.3 1.8l2.6 3.4l-2.9 0.7l-1 2.7l-2 2.4l-3.1 0.2l-2.6 2.5l3.8-0.8l2.6 0.6l2.6-0.6l3.9 0.8l2.5 0.2l2.6-0.2l2.6 0.6l2.6-0.2l2.5 1.7l3.9 0.5l3.5 0.8l2.9-2.1l2.4-1.4l2.8 0.1l2.5 1.1l2.7-0.2l3.8 2.5l1.3 2.2l1.3 2.1l-1.8 3.8l4.4 0l2.5-3.4l3.9 0.8l3.9 0.9l3.8-1.3l3.9 1.3l3.9-0.9l2.5-3.8l2.6-1.3l2.6-0.2l2.6 0.7l2.6-0.2l2.5 0.6l2.8-0.6l2.4 1.4l2.7-1.1l2.4 1.6l2.6 2.5l3.9 1.3l2.5 1.7l3.9-0.4l2.6 1.4l2.6-1.4l2.5 0.7l2.6-0.3l2.6 0.6l1.3 2.4l1.3 2.1l3.8 0.8l3.9-0.8l2.5 1.2l2.6-0.8l2.6-1.1l2.6 1.1l3.3-1.7l4.4 0.9l1.3 3.4l1.3-3.9l2.5 0.8l2.6-0.3l2.6 0.3l2.6-0.3l2.3 1.8l2.9-0.1l3.8 0l3.9 2.1l2.7 1l2.4 1.5l1.8 2.9l3.4 0.1l3.8 2.1l3.9 0.9l3.9 1.7l2 1.5l2.6 0.2l-2 2.5l-3.9 0.4l-1.3 3.4l-2.6 1.3l-3.8-2.5l-3.1-2.2l-4.7-0.4l-2.5-3.4l-2.6 2.6l-1.3 2.9l-3.9 1.7l-2.5 1.3l3 2.1l2.1 3.4l1.3 2.6l-3.9-0.4l-3.8 0.8l-3.9 1.7l-3.9 1.7l-3.8 2.5l-1.9 2l-2 1.9l-3.9-2.2l-2.3 1.6l-2.8-0.3l-3.9 1.7l-3.8-0.4l-1.8 2.5l-0.3 4.7l-3.1 1.3l1.3 3.8l1.3 3l-1.3 3.4l-1.8 2.9l-3.4 3.4l-1.2 3.4l-3.6 1.3l-0.5 2.5l-1.1 2.2l-3.1 3.4l-1.5-4.3l-1.2-2.4l-0.1-2.7l-0.2-2.7l-0.3-2.8l0.7-2.5l-0.5-2.6l1.1-4.7l2.5-3.8l3.4-2.5l2.3-1.8l1.5-2.5l2.5-1.8l1.9-2.4l2.2-2.7l2.5-2.4l1.8-4.2l-2.6 0.4l-1.5 2.1l-2.4 1.3l-3.8-0.9l-2.6 0l-2.7-0.4l-2.5 1.3l-2.2 1.1l-1.6 1.8l-1.7 2.2l-0.9 2.5l-2.6 3l-3.8 0.8l-2.6-1.2l-3.9-2.2l-3.9 1.7l-2.5-0.1l-2.6 0.1l-2.6-0.7l-2.6 0.7l-3.8 0.5l-2.1 1.5l-1.8 1.9l-2.6 3.4l-1.5 2.4l-2.3 1.8l-2.6 3.8l-1.8 2.1l-2.1 1.7l3.4 2.2l1.3 2.5l4.4-0.8l3.8 2.5l-1.3 4.3l2.1 3.4l-2.1 4.2l0.1 3.2l-0.3 3.2l-1 2.6l-1.3 2.5l-1.6 2.4l-1 2.7l-1.4 2l-1.2 2.2l-1.7 2l-1.4 2.2l-1.2 2.2l-1.4 2.1l-3.3 3l-2.6 0.8l-2.6-2.1l-2.5 2.5l-0.8 1.3l-1.8 3l-0.8 3l-2.3 2.9l-2.6 1.7l-0.8 2.1l2.1 3l1.3 3.4l1.5 3.4l0.3 4.3l-0.5 2.9l-2.1 1.7l-2.6 1.3l-2.5 0.9l-0.6-2.6l0.8-3.4l-0.2-3.4l0.7-2.5l-1.5-2.2l-3.1-0.4l0.5-3l0.3-3.4l-2.1-2.1l-2.6 0l-2.5 1.7l-3.1 2.1l1.3-2.9l1-3.8l-2.3-1.7l-2.1 2.5l-2.6 2.1l-1.8 2.6l-2.5 0.8l-0.3 3l2.1 2.1l1.2 2.6l2.6-1.3l2.6-0.9l3.3 1.3l0 2.1l-3.3 1.3l-1.8 2.6l-2.1 2.5l-0.5 2.6l1.8 2.1l1.8 4.2l0.5 3.4l2.4 3l0.2 3.4l-2.3 1.7l2.1 1.7l0.5 2.5l-0.8 3.4l-1.3 2.6l-1.8 3.8l-1.8 4.2l-0.5 3.4l-2.1 2.6l-2 1.7l-1.8 3.4l-2.1 2.1l-2.6 1.7l-3.1 1.7l-2 0.4l-1.3 1.3l-2.6 0.8l-2.6 1.3l-1.8 0.9l0.5 3.8l-1.8 0l0-4.3l-2-1.2l-1.8 0.4l-2.1 1.7l-2 3l-0.6 2.1l-1.8 3.4l-0.2 2.1l1.5 3.8l1.8 3.8l2.6 3l1.8 3.4l0.7 3l0.6 3l0.5 2.7l-0.2 2.8l-0.3 3.8l-1.8 3l-2.6 2.1l-1.8 1.3l-0.2 3.4l-3.1 2.5l-1.3 1.3l-0.5-3.8l0.5-3l-2.1-1.3l-1.8-0.4l-1.3-3l-0.5-2.9l-2-1.7l-2.6-1.3l-0.3-3l-1.5-0.4l-0.8 1.3l-0.3 3.8l-1 4.6l-0.8 3.9l0 4.2l1.6 0l1 3.8l0.8 4.3l1.3 2.1l1.8 0.9l1.5 2.1l1.8 2.9l1.1 3.9l0 3.4l0.2 4.2l1.3 3.4l0.5 2.6l-1.8 0.4l-1.8-2.6l-2-1.7l-1.9-2.5l-1.2-3.8l-0.8-3.9l-0.5-3.4l0-3.3l-1.6-2.2l-1.8-3.4l-1.3-2.5l-0.5-4.3l0.8-4.6l0.1-2.8l0.2-2.7l0-4.3l-1.1-4.2l-1-4.7l-0.2-2.8l-0.3-2.7l-1.3-3.9l-1.8 1.7l-2.6 2.6l-2.6-0.4l-0.1-2.6l0.1-2.5l0-4.7l-1.3-3.8l-1.2-3l-2.1-2.5l-1.3-3.4l-1-4.3l-2.1-1.3l-1.8 2.6l-2 0.8l-2.6 0.5l-2.6 0.4l-1.3 1.7l-0.5 3l-2.1 2.5l-2.5 2.6l-2.6 3.8l-2.1 3.4l-2.3 3.4l-2.1 2.9l-2.5 2.2l-1.1 3.8l0.3 5.1l0.3 4.2l-1.3 4.3l0 5.1l-1.6 1.7l-0.5 2.9l-2.1 1.7l-1.8 3l-1.2-1.7l-1.3-3.4l-1.3-5.1l-1.3-4.6l-1.3-4.3l-0.8-3.8l-0.7-4.7l-1.6-4.2l-1-4.3l-1.1-5.1l-0.5-5.1l-0.2-5.5l0.2-3.8l-0.7-2.1l-0.8 2.5l-3.1 1.3l-2.1-0.9l-2.5-4.2l0.7-2.1l2.1-2.1l-3.4 0.4l-1.2-2.6l-1.8-1.2l-1.3-3l-1.3-2.1l-2.1-1.7l-3.8 0.4l-3.9 0.4l-3.1 0.4l-3.4-0.8l-3.3-0.4l-3.1-0.9l-1.8-1.7l-0.8-3.4l-1.8-1.7l-2 2.1l-2.6 0.5l-2.6-1.3l-2.6-2.6l-2.5-1.7l-1.3-3.8l-1.3-2.9l-1.3-2.6l-2.6-1.3l-1.3 1.7l-1.3 1.3l0 3l1.3 2.9l1.3 3l1.8 2.6l1.3 2.1l-0.2 3l1.5 3.4l0.8-3.4l1-1.3l0.5 3.4l-0.2 3.4l2 1.3l3.1 0.4l2.1-0.9l2.6-3.4l1.8-3.4l1-1.7l-0.3 4.3l0.8 3.4l2.3 2.1l2.6 1.3l2.1 3l1.2 2.1l-1.2 4.2l-2.1 4.3l-1.8 3.4l-0.3 3.4l-2.3 2.9l-3.3 2.6l-1.3 2.5l-3.1 0.9l-3.4 2.1l-2.5 3l-3.4 2.1l-3.1 3.4l-2.6 1.3l-3 2.1l-3.4 2.1l-2.1 0.9l-2.8 0.4l-1-3.4l-0.8-5.5l-0.2-4.3l-0.6-4.2l-1.5-3.8l-1.8-4.3l-1.3-4.2l-2.1-2.6l-2-4.2l-0.5-4.3l-1.3-5.1l-2.1-3.4l-1.3-3.8l-1.3-3.4l-1.8-4.2l-1.3-3.4l-1.8-2.2l0.3-4.6l-0.8 3.8l-0.7 2.5l-1.3-1.2l-1.6-3l-1-3l-0.5-1.2l-0.3-2.6l-0.5-3l2.3 0.5zM601.3 194.8l3.1-1.1l2.6-0.4l2.6-0.8l3.3-0.5l3.1-0.4l2.6-1.3l1-0.8l-1.8-0.8l1.5-1.7l1.1-3l-1.8-1.7l-1.8 0l-0.5-2.6l-1.1-2.9l-2.3-1.7l-1-3.4l-1.6-2.2l-2 0l1-2.1l1.3-2.5l0.5-2.1l-3.6-0.5l-1.8 0.5l2.1-3.9l-3.4-0.4l-1.3 0l-1.3 2.6l-0.7 2.9l0.5 2.6l0 2.9l0.2 2.6l1.8-0.9l-0.2 3l1.8 0.4l2.3-0.4l0.3 3l0.7 2.1l-0.7 1.7l-2.9 0l-0.5 2.1l1 2.2l-1.8 1.2l-1 0.9l2.6 0.8l2.6 0.9l-1.6 0.8l-1.8 0.9l-1.5 2.5zM590.2 187.8l2.6 0.4l2.6-0.8l3.1-1.7l1.5-1.3l0.3-3.4l0-3l1.3-2.1l-1.1-2.5l-2.5-0.9l-3.1 0.9l-0.8 2.5l-3.3 0.9l-0.6 3.4l1.8 1.7l-1.2 2.5l-1.3 1.7zM553.4 129.2l2.1-2.5l2.5-1.3l2.6 2.5l3.1-0.8l3.4-0.4l3.8 0l3.9-1.7l3.1 1.7l0.7 2.5l2.4 2.1l-2.4 2.2l-2.5 1.2l-3.9 1.7l-3.9 1.3l-3.8-0.4l-3.9-1.3l-2.8 0l1.5-2.1l-1.3-2.1l-3.8 0l3.8-1.7zM644.3 69.4l3.3-0.4l3.2-0.5l2.7 1.6l2.4-2l3.9 1.7l3.9-0.4l2.2 2l2.9-0.8l2.1 3l-2.4 2.7l-3.6-0.2l-1.2 3l-3.9 2.6l-3.9-1.3l-2.5-3l-2.6-2.1l-3.9-2.6zM662.4 67.2l2.9 0.9l2.2-2.1l2.6 1l2.6 0.1l2.5-1.1l2.5 1.3l2.8-1.8l2.5 1.3l2.6 1.3l-2 2.4l-3.2 0.1l-3.2-0.5l-3.2 0.5l-3-2l-3.5 0.3l-3 0.5zM671.4 76.6l3.2-1.8l3.2 1.8l1.3 2.1l-3.9 0.4zM748.7 103.3l2.5 2.6l3.9 1.2l3.9 0.5l2.5 1.5l2.6-1.5l-1.3-3l-2.5-2.6l0.7-2.9l-0.7-3l2.5-3l3.9-2.5l3.1 0.2l2-2.3l2.3-1.9l2.9-0.3l3.5 0.3l2.9-2l3-1.7l3.5-0.4l3.8-1.7l-2.4-1.4l-2.7 1l-2.8 2.4l-3.6-0.7l-2.7 0l-2.3 1.8l-2.8-0.5l-2.7 0.2l-2 2.7l-3-0.8l-2.8 0.8l-2.4 1.7l-3.3 3l-3.1 3.4l-1.8 3l-2.6 2.9zM863.3 72.3l2.7-1l2.5 1.4l2.5 0.5l2.2-2.1l2.9 0.3l2.7-0.4l3 0.1l2.3 1.7l2.4 1.6l-2.6 1.2l-2.6 1l-2.5-0.7l-2.6-0.1l-2.6 0.3l-3.2-0.5l-3.2-0.3l-1.2-2.4zM853 67.7l2.6-0.1l2.7-0.6l2.4 1.5l2.7 0.2l2.4-1.5l2.6 0l3.2 0.3l2-2.4l-2.7-0.3l-2.9 0.5l-2.1-2.3l-2.5 0.8l-2.9-1.8l-2.4 1.8l-2.5 2zM868.4 68.9l3.1 1.7l3.4-0.4l2.6-0.3l2.5 1l2.6-0.3l-2.8-0.3l-1-2.6l-3.4 0.5l-3.1-1.4zM731.9 65.1l3-0.6l2.3 1.7l2.4 1l3.2-0.8l3.3 0.4l-2.6-2.5l-2.6-0.4l-2.5-0.4l-2.6 0.3zM752.5 66.4l2.7-0.6l2.6 0.4l2.5 1l2.4-1.9l2.6 0.1l2.7 1l3.1-1.5l3.3-0.6l3.9-2.6l-2.5-1.6l-2.8 2.2l-2.5-0.9l-2.5-0.5l-2.2 2.1l-3-1.3l-2.5 0.9l-2.6 0.9l-2.6 0.3zM968.9 87.6l2.8 0.8l2.4 1.8l2.5-0.6l2.6-0.5l2.6 0.6l2.5-0.9l2.6-0.3l2.3-1.9l2.9 0.2l-2.3-1.8l-2.9-0.4l-2.5-1.4l-2.6 0.1l-2.6 1.8l-2.6-0.5l-1.9 2.6l-3.5-1.4zM992.1 88.5l3.2 0.5l3.2 0.7l2.6-0.5l2.6-0.7l-3.9-2.2l-2.7 0.2l-2.7 0.2zM975.4 95.7l3.8 0.4l2.6 0.1l2.6-0.1l-1.3-2.1l-2.6 0l-2.6-0.4zM1075.8 105.4l3.9 0.9l3.8-0.4l2.1-1.7l-4.6-0.5l-3.9 0zM740.4 113.5l3.1 1.7l1.8-1.7l-2.6-1.3zM981.8 176.8l2.1 3.4l1 4.2l0.5 2.6l-0.5 2.5l0.8 4.2l1.3 2.2l0.5 2.5l-2.4 0l-0.3 2.6l-0.9 2.5l0.5 4.3l1.3 2.1l-2.6-0.4l-1.3 2.5l-0.3-4.2l0.3-4.3l0-4.2l0.2-4.3l-0.7-4.2l-0.3-4.3l-0.4-2.8l0.7-2.7zM976.6 231.1l2.6-1.3l0.8-2.9l3.1 1.2l2 0.9l2.6-3.8l3.1-1.7l-0.8-3l-2.3 0l-3.3-2.1l-2.6-3.9l-1 3.9l-0.8 4.2l-2.1 1.3l-1.3 3zM980.2 231.5l1.1 4.7l0.5 3.4l-1.3 4.2l-1.3 2.2l0 4.2l-0.5 4.3l-0.8 2.1l-1.8 0.8l-2 0.9l-1.3 1.7l-3.1 0.4l-1.3 0.9l-1.5 3.8l-1.9 0l-1-3l0.3-1.7l-3.1 0l-2.6 1.3l-2.6 1.2l-2.5 0.5l-0.3-2.1l2.3-1.3l2.1-3l2.3-0.4l2.6-0.4l2.5 0l1.3-2.6l1.8-2.1l0.8-2.1l0.8-1.3l1.8 2.1l2-3.4l1.9-3l1.2-4.2l0-4.2l0.8-2.6zM953.2 263.4l2.1 2.5l0.5 3l-1.1 3.4l-1.2 2.5l-1.3 0l-0.8-3.4l0.3-3.4l-1.6-0.8l0.5-2.1zM957.3 263.4l2.6-0.9l2.6-0.4l0.5 1.7l-1.3 2.1l-2.3 0l-1 2.1l-1.3-1.7zM929 300.3l1 1.7l-0.8 3.4l-1 5.1l-1 3.4l-1.3-3l-0.5-3.4l1.5-4.2zM900.6 322.4l1.3 1.7l-1.3 3.4l-2 2.1l-2.6-1.3l0-2.9l2.1-2.6zM822.1 365.7l2 3.4l1.3 3l1.3 3.8l-0.5 3.8l-2.3 2.1l-1.8-0.8l-0.5-5.5l0-4.3zM926.7 328.8l1.8 0l2.3 0.4l0.2 4.7l-0.7 4.2l-1.3 3l0.5 3.8l2.1 2.1l2 1.3l2.1 3.8l-0.5 1.7l-2.4-3l-1.8-1.2l-2-0.5l-1.8-0.4l-1.3-3l-0.8-3.4l0.5-3.8l0.6-4.6l0.6-2.6zM930.3 377.6l1.3-3.4l2-3l3.1 0l1.4-2.5l1.2-2.6l1.8 3l0.8 4.2l-0.3 4.3l-1 3l-1.3 2.5l-1.3-1.3l-2.1-1.2l-1-4.3l-2.1-0.8l-1.8 2.1zM936.2 354.2l2.6 0.9l0.7 4.2l-1.5 4.3l-0.5-3.9l-1.1-2.6zM930 357.2l2.8 1.3l0.3 4.2l-0.8 4.3l-1.5-4.3l-0.6-2.7zM917.9 371.6l2.1-3.4l1.2-2.3l1.3-2.3l1.8-4.3l-1 3.4l-1.3 2.4l-0.7 2.7l-2.4 3.8zM926.2 350.4l2 0l0.8 3.8l-1.3 1.3l-0.9-2.5zM896.8 400.9l1.5-2.1l2.3 1.3l2.1 0.8l-0.2-3.8l2-2.1l2.6-1.3l1.8-3.4l2.1-3.4l2-2.1l1.8-3l2.1-3.8l1.8 1.7l0.8 2.6l3 2.9l-1.8 3l-1.5 1.7l0.3 4.7l0.5 3.4l1 2.5l1 2.6l-2 0.8l-1.1 3.4l-0.2 4.2l-2.6 3.4l0 4.3l-1.3 3.4l-2.6 1.7l-1.8-2.1l-2-0.9l-2.6 0.4l-2.1-1.7l-3.1-0.4l-0.8-2.5l-0.4-2.6l-2.1-4.2l-0.5-4.3l-0.2-2.5zM861.5 383.5l3.1 1.7l2.6 0l2 4.3l1.8 2.9l2.6 3.4l2.1 2.6l2.3 1.7l2 3l2.1 2.1l1.3 3.4l1.5 3.4l1.1 2.2l0.2 2.4l2.9 3.4l-0.5 2.8l0.2 2.8l0 3.1l0 3.2l-2.3 0l-1.8-1.2l-2.1-3l-2.6-3l-2-3.8l-1.8-3.4l-1.3-3.8l-1.8-4.3l-1.6-3.4l-1-4.6l-2.1-3.9l-1.8-2.9l-2-3.4l-1.1-2.3l-1.5-2zM887 436.2l2.1-3.9l2 0.5l3.1 1.7l2.1 1.7l3.1 0.4l2-2.1l2.3 1.2l2.6 0.9l2.1 3.4l2.6 0.4l-0.3 3.4l-2.8-1.3l-3.4 0l-3.9-0.8l-3.8-1.7l-3.1 0l-3.4-1.3l-2.5-2.1zM924.6 403.9l2.6-2.1l3.1 1.3l2.5 0.4l3.4-1.3l2.3-1.7l-1 3.4l-2.1 1.7l-2.6-0.4l-3 0.4l-2.6 0l-1.8 2.5l0 3l2.3 1.7l2.1-1.7l3 0l1.1 0.4l-2.3 2.6l-1.8 1.3l0.5 2.3l0.7 2.3l1.3 4.3l0.5 3.4l-1.2 3l-2.1-3l-0.5-3.4l-1.6-2.6l0-2.9l-1.5 0.8l0.3 4.7l0.4 3.2l-0.4 3.2l-2.4 0l0-4.3l-0.5-4.7l-1.3-2.9l0.4-2.6l0.9-2.5l0.5-3l0.8-3zM953.5 410.7l3.8-1.7l3.9 1.7l0 2.6l0.5 2.5l1.2 2.7l0.9 2.8l1.6-1.9l0.9-2.3l2.2-1.5l1.7-1.9l3.9 2.1l2.5 1.4l2.6 1.1l3.9 2.6l3.8 2.5l2 1.8l1.9 1.6l1.3 3.9l3.9 2.1l0.7 4.2l-2 2.1l2.5 3l1.2 2.2l1.4 2.1l2.6 3.4l1.8 1.2l-3.1 0.5l-3.9-1.3l-2.5-3l-1.5-2.2l-1.1-2.5l-2.6-2.1l-2.6-0.4l-1.8 3.4l-0.7 3.4l-3.9-0.4l-1.3-0.5l-2.6-3.8l-2.5-0.4l-2.6 1.3l0.5-2.5l1.3-2.2l-0.5-3.4l-1.3-3.8l-2.6-2.6l-3.9-2.5l-2.5-1.7l-2.6 0l-1.8-2.1l-2.1-3l3.9-1.7l0-2.6l-3.9-0.4zM944.4 399.2l1.3 1.7l1.8 0l-1.8 4.3l1.3 4.2l-1.5-0.8l-0.8-4.7zM945.7 420l3.9-0.8l3.3 2.1l-2 1.3l-3.9-0.4zM940.6 420.9l2.6 0l0.5 2.1l-2.4 0.4zM934.1 451l1.6-1.9l1-2.3l1.9-1.5l2-1.5l3.1-0.8l-1.8 2.5l-2.2 1.1l-1.7 1.9l-2.6 2.1zM924.6 443l3.1 0l4.6-0.9l0 2.1l-4.6 0.9l-3.1-0.4zM916.9 443.4l3.1-1.3l3.1 1.3l-1.8 1.7l-3.9 0.4zM922.5 447.6l2.6-0.4l2.1 2.6l-2.1 1.2l-2.6-2.1zM911 442.1l2.8 0l-0.8 2.6l-1.8-1.3zM914.6 442.5l2 0l-0.5 2.6l-1.5-0.4zM887.3 414.5l2.5 0l0.3 2.8l0.8 2.7l-2.4-2.1zM998 431.1l3.1-0.4l2.6 0l2.6-3.9l2-1.2l-0.2 2.9l-3.1 3.4l-2.6 2.1l-2.6-0.4zM1004.5 418.3l3.1 2.6l1.2 2.1l1.3 2.1l-0.5 1.7l-1.3-2.3l-1.3-2.3l-2.5-3zM1014.2 430.2l2.4 2.6l1.3 3.4l-1.8-0.5l-1.6-3.4zM1019.1 435.7l2.6 2.6l2.6 2.5l3.3 2.2l-2-0.5l-3.9-2.1l-2.6-3.4zM1026.9 446.8l2.5 0.4l1.3 2.6l-2.5-0.9zM1030 443l1.5 2.5l1.3 3l-1.5-0.9l-1.3-2.9zM1038.5 492.6l2.5 2.6l2.6 3.4l2.6 3.4l-1.8 0l-3.4-3.4l-2-3zM1045.2 471l1.5 0.8l0 2.6l-1.3-0.9zM1047 475.2l1.8 1.3l-0.8 1.3l-1-1.3zM1072.7 481.6l2.6-0.4l1 2.5l-2.3 1.3l-1.3-1.7zM1076.3 478.2l2.9-1.7l0.5 1.3l-2.6 1.7zM908.4 501.6l1.5-1.7l2.3-1.7l2.6-2.2l2.6-1.2l2.6-1.3l2.5-1.3l2.6-0.8l2.6-1.3l2.1-4.3l1.2-5.1l1.8 0.9l1.6-2.1l0.5-3.4l1.8-1.7l1.8-4.3l2.1-2.5l2-1.7l2.6 3l1.3 1.7l1.8 0l1.8-0.5l0-5.1l1.6-3.4l1.2-1.7l1.8-0.8l2.6-0.9l0-2.5l2.6 1.7l2.6 0.8l2 0.9l1.8 0.4l2.1-0.4l-0.8 4.2l-1.3 2.6l-1.3 4.2l2.1 3l1.8 1.7l2.6 2.6l2.6 2.9l2 1.7l2.1 0l1-4.6l1-5.1l0.6-5.6l0-5.1l0.7-3.8l1-2.3l0.6-2.3l1 2.9l0.8 3.4l0.8 4.3l0.7 4.6l2.3 0.5l1.6 2.1l0.3 5.1l1.5 4.6l0.5 5.1l2.1 3.4l2.5 3l2.1 2.1l1.3 4.3l1 3.8l2.6 0.9l0.3 3.8l2.3 2.1l2 3.4l1.3 3l0.5 5.5l0.8 4.2l0 4.3l-0.8 5.1l-0.5 4.2l-1 5.1l-2.1 3.4l-1.3 3.4l-1 3.8l-1.5 4.3l-0.8 3.8l-0.3 3.8l-2.3 1.3l-2.6 0.4l-2 2.1l-2.1 3l-2.3-2.5l-2.1-0.9l-2.3 1.7l-2.5-1.3l-2.9-0.4l-2.6-1.3l-2.3-3.4l-0.2-3.8l-1.8-3l-1.8 0l0.5-3.4l-1.3-2.5l-0.5-4.2l0-2.6l-1.1 3.8l-1 2.2l-1.3 3.3l-1.5 0.5l-1.3-1.7l-1-3.4l-2.1-3l-1.8-3.4l-2.6-0.8l-2.6-1.7l-2.5 0l-2.6 0l-2.6 1.2l-2.6 1.3l-2.5 0.4l-2.6 1.7l-2.6 1.3l-1.3 2.6l-1.8 1.2l-2.6 0.5l-3.3-0.5l-2.6 0.5l-1.8 1.6l-2.6 2.2l-2 0.8l-2.6-0.4l-2.1-2.1l-1.8-0.9l0.3-3.4l1.5-0.8l0.3-4.7l-0.3-3l-1.2-4.2l-0.6-4.3l-1-3.8l-1-3.4l-1.6-4.6l-0.7-3l1.2-0.9l-0.7-4.2l0.5-4.3l0.2-4.2zM988.7 580.1l2.1 0.8l2.6 1.3l2.6-0.8l2-0.5l0 3.9l-0.5 2.9l-0.8 3l-2 1.3l-2.6 0.4l-1.3-3.4l-0.8-3.4l-1-3zM1060.9 553.3l2 2.6l2.1 2.5l1.3 5.1l1.8-0.4l1 3.4l2.9 1.7l2.5-1.3l1.3 0.9l-0.8 3.8l-2.3 2.1l-0.7 2.6l-1.3 4.2l-3.1 3.4l-1.6-1.3l1.3-4.2l-1.8-2.5l-1.8-1.7l2.1-2.2l0.5-4.2l-1-4.3l-2.4-4.6l-1.3-2.6zM1060.9 579.2l2 2.2l2.1 3.4l-2.1 3.4l-1.3 2.5l-0.7 2.6l-3.1 1.7l-0.8 2.9l-1 4.3l-2.1 1.7l-2.6 1.2l-2.5-0.8l-2.6-1.3l-1.3-1.3l1.8-3.3l2.1-3.4l2.5-2.2l3.4-2.9l2.6-3.4l1.8-3.9zM648.2 246l2.6-0.5l3.8-0.4l1.6 0l-1 3.4l-0.3 3l-2.1-0.9l-2.8-1.7l-1.8-1.2zM637.1 233.2l2.6-0.8l1.3 1.7l0.1 3.2l-0.4 3.1l-1.5 0.9l-1.6 0.4l-0.1-2.5l0.1-2.6zM638.2 226.9l2-2.2l0.3 3.4l-0.5 3l-1.3-0.4zM676.5 256.6l2.6 0.4l2.6 0.4l2 0.5l-2 0.8l-2.6 0l-2.6-0.8zM699.2 258.7l1.8-1.3l3.9-1.2l-1.3 2.5l-1.3 1.3l-2.6 0zM622.2 239.2l2-1.3l0.6 1.7l-1.3 0.8zM644.9 170.8l3.3-1.3l0.3 2.6l-1.6 1.7l-2-0.9zM662.6 164.5l2.3-3l-0.5 2.5l-1.3 1.3zM753.3 353.8l3.1 0l-0.5 1.3l-2.1 0zM191.2 175.5l3.6-1.7l0.5 1.3l-3.3 1.2zM183.2 180.2l2.2-1.4l2.5-0.8l0.2 1.3l-4.1 2.1zM180.1 183.1l3.1-2.9l0.5 1.2l-3 2.2zM171.4 184.8l2.8-0.4l2.6-1.3l0.2 1.3l-2.8 0l-2.6 1.3zM164.4 186.1l2.5-1l2.7 0.2l0 1.2l-2.4 0.9l-2.5-0.4zM155.4 187l3.3-0.5l3.4 0l0 1.3l-3.2 0l-3.2 0.4zM214.1 321.5l2.6 2.2l-1.5 2.9l-1.1-2.5zM212.3 318.1l1.8 0.9l-1 0.8zM208.5 315.6l1.3 0.8l-0.8 0.5zM204.6 313.5l1 0l-0.5 0.8zM855.1 350l0.5 4.2l-0.5 3.9l-0.6-3.9zM380.3 408.6l1.3 0.4l0 2.5l-1-0.4zM793.2 615.3l3.9 0.9l-0.8 2.1l-2.6-0.4zM518.1 636.6l2.6 0.5l2.6 0.7l-1.3 2.2l-3.9-2.2zM152.3 765.2l0-25.5l2.5 0.5l2.4 0.3l2.5-0.6l2.4-0.1l2.5-1.1l2.4 0.8l2.5 0.1l2.4-1l2.5-0.4l2.5 1.3l2.4 0.5l2.5-0.7l2.4-1l2.5 1.3l2.4-1.1l2.5-0.1l2.4 0.9l2.5-0.1l2.5 0.2l2.4-0.1l2.4-0.8l2.3-1.5l2.5-0.1l2.6 0.2l2.3-1.2l2.7 0.7l2.5-0.7l2.4-0.5l2.5-0.1l2.4-1l2.6 0l2.2-1.5l2.3-1.1l2.6 0.2l2.7 0.4l2.3-1.2l2.3-1.1l2.4-0.9l2.5-0.5l2.4-0.5l2.7 0.7l2.4-1l2.4-0.6l2.5-0.1l2.5 0.8l2.3-1.6l2.6 0.3l2.3-0.9l2.5-0.2l2.5-0.2l2.4-0.3l2.4-1l2.6 0.8l2.4-0.5l2.4-1.2l2.6 1.4l2.5-0.2l2.3-1.8l2.4-0.1l2.6 0.5l2.4-0.8l2.4-0.2l2.5-0.4l2.5 0.3l2.4-0.2l2.4-1.2l2.5 0.2l2.5 0.5l2.5-0.1l2.4-0.2l2.5-0.3l2.4-0.5l2.3-1.5l2.5 0.5l2.6 0.5l2.3-1.2l2.5-0.5l2.5 0.8l2.5 0.2l2.5 0.2l2.4-0.7l2.4-0.8l2.4-1l2.5 0.7l2.4 0.5l2.5 0.5l2.5-0.6l2.4 0.2l2.5-0.9l2.4 0.6l2.5 0.6l2.4 0.5l2.5-0.8l2.4 1.1l2.5-0.4l2.4 0.1l2.5-0.7l2.4 1.1l2.5-1l2.5 0.7l2.4 1l2.4 0.1l2.5 0.2l2.5-1.4l2.4 0.8l2.6-0.8l1.7-2.1l1.8-2l2.9-0.1l2.2-1.4l2.2-1.3l1.5-2.5l2-1.6l2.9-0.3l1.9-1.7l2.4-1.1l1.7-2.1l2-1.5l2.1-1.4l1.4-2.1l1.8-1.7l1.9-1.6l1-2.4l2.4-1.1l1-2.5l2.5-1l1.1-2.4l1.9-1.6l1.5-2l2.2-1.9l2.8-0.4l2.6-1.1l2.3-1.5l3-0.2l-1.8 2.2l-2 1.9l-1.9 2.1l-2.2 1.7l-2.4 1.5l-2.3 1.7l-0.7 2.9l-2.5 1.5l-2.2 1.8l-0.2 3.3l-2.4 1.5l1.4 2.1l2.5 1l1.7 1.8l1.5 1.9l0.8 2.7l2.4 1.1l-1 2.4l1.3 2.7l-1.6 2.3l1.2 2.6l-0.7 2.4l-0.5 2.5l-2.8 0l-2.4 1.2l-1.8 2.4l-2.8 0l-2.3 1.3l-2.6 0.4l-2.6 0.6l-2.2 1.5l-2.4 1.1l-2.8-0.2l-2.6 0.6l-2.2 2.1l-2.5 0.8l-2.7 0.3l-2.7 0l-2.6 0.6l2.4 0.6l2.4 0.4l2.5-0.1l2.4 0l2.4 0l2.4 0.2l2.5-0.3l2.4 0.6l2.3 0.5l2.5 0.2l2.4-0.2l2.4 0.1l2.5-1.1l2.4 0.6l2.4 0.4l2.4 0.3l2.4-0.4l2.5-0.2l2.4 0.3l2.4 0.9l2.5-1.1l2.4 1.3l2.4-1.8l2.5 0.8l2.4 0.6l2.4 0.1l2.4-1.5l2.5 0.2l2.4-0.1l2.4 1l2.5-1l2.4 0.6l2.4-0.2l2.5 0.5l2.6-0.8l2.5 0.5l2.6 0.1l2.6 0.3l2.6-0.5l2.5-0.5l2.6 0.5l2.6 0.7l2.6-0.3l2.2-1.8l2.9 0.1l2.3-1.8l3.1 0.8l2.2-2.2l2.7-0.2l2.7-0.7l2.5-1.5l3 0.1l2.8-0.2l2.8-0.5l2.4-1.5l2.8 0.2l2.7-0.3l2.4-2.1l3 1.1l2.5-1l1.1-2.7l3-1.1l1.1-2.6l2.6-0.7l1.8-2l1.9-1.7l2.2-1.3l1.8-1.9l2.3-1.8l3.1 0.5l2.3-1.7l2.4-1.4l2.7-0.2l2.7-0.1l2.6 0.1l2.4 1.4l2.7 0.2l2.6 0.1l2.6 0.3l2.5 0.5l2.6-1.1l2.6-1.1l2.7 0.1l2.7-0.9l3.2 0.2l3-1.1l3.3 0.5l3.4-0.9l2.5-0.6l2.5-0.7l2.6-0.1l2.7 0.6l2.7-0.4l2.3 1.7l2.7-0.1l2.7-0.5l2.4 1.6l2.6-0.2l2.9-1.1l3 1.2l2.9-0.5l3.1-0.4l3 0.9l3.1-0.1l3.2 0.1l3-1l3.5-0.5l3.2-1.2l1.2-2.5l2.4-1.3l2.9-1.7l2.7 0.1l2 1.7l2.2 1.2l2.3 1.2l2.5-0.4l2.4 0.5l2.6-3.4l2.6-2.2l2.4-1.4l2.7-0.6l2.6-0.9l2.8-0.1l2.2-1.9l2.7-0.1l2.3-1.8l2.9-0.4l3-0.7l2.1-2.2l2.6-0.8l2.6-0.5l2.6-0.4l3.6 2.1l4.1 2.1l2.7 0.2l2.6 0.4l2.4 1.1l2.6 1l2.7 0.2l2.7-0.3l2.9-0.1l2.7 1.3l2.9 0l2.7 1.1l2.8-0.7l2.8 0.5l1.8 3.4l-0.6 3.8l-1.8 2l0 2.7l-2 4.2l-2.3 3.8l-1.6 2.6l2.1-2.4l3.1-1l2.9-0.9l2.2-2.1l2.6-3l2.6-2.9l2.9-0.7l2.2-1.9l2.4-1.5l2.8-0.6l3.8-2.6l3.9-2.5l3.1-1.5l3.3-0.6l3.2-1.3l3.3-0.4l2.5-1.1l2.7 1.1l2.6-0.6l2.5-0.7l2.6 0.3l2.6-0.6l2.5-1.1l2.6 0.1l2.5-1l2.6 0.1l2.7 0.9l2.5-0.8l2.5-1.2l2.7 0.8l2.5-0.6l2.6 0.1l2.5-0.8l2.6-0.3l2.6-0.1l2.5 1l2.9 0l2.4 1.5l2.7-0.1l2.3 1.9l2.7-0.1l3.9-2.5l4.1-1.3l3.1 3l3.3 2.1l3.5 0.5l3.5-0.5l2.4-0.3l2.4-0.2l2.4 0.5l3.2-0.7l3.2-1l3.4 0.4l3.1-1.3l3.8 1.7l3.9 0.9l2.6-2.6l2.5-1.2l3.3 0.3l3.2-0.8l3.2-0.1l3.2 0.1l3.2 0.9l3.3 0.4l3.2 0.4l3.2 0.9l2.5 0.8l2.7 0l2.5 0.5l2.6 0.4l2.6 3l2.6 2.1l3.1-0.7l2.8 1.6l3.1-0.1l2.9 0.9l3.1-0.6l3 0.1l3.3 0l3.1 1.3l3.3 0.3l3.2 1l2.3 1.2l1.5 2.2l1.5 2.2l2.4 1.2l3.3 0l3.1-0.9l3.3-0.4l3.2 0.4l2.7 0.7l2.4 1.5l2.9 0.6l2.3 1.9l-1.3 3.8l-2.3 3.9l-2.9 1.1l-3.1 1l-3.2-0.1l-2.7 1.8l-2.5 0.6l-2.1 1.5l-2.6 0.3l-1.8 1.8l2.6 3.8l2.6 3.4l2.7-0.5l2.5 1.9l2.7-0.5l2.5 1.2l2.6 0.2l2.7-0.1l-2 1.9l-2.7 0.6l-2.6 0.4l-2 1.7l-3.2-0.3l-2.7 1.6l-3 0.2l-2.7 1.1l-2.6 2.5l-2.5 2.6l1.8 2.5l2 2.6l4.4 1.7l4.6 1.7l10.3 2.9l14.2 2.6l15.7 2.1zM407.3 96.1l3.3-0.6l3.2-0.7l2.8 0.7l2.3 1.9l-2.5 1.7l-3.3-1.5l-3.2 1.5zM367.4 87.2l3.3-0.1l3.2-0.8l1.2 2.6l-2.4 1.1l-2.7-0.3zM322.3 77l2.4-2l2.6-0.5l2.8 1.6l2.5 2.2l-3.3-0.4l-3.1 1.2zM323.6 73.6l2.5-1.1l2.5-0.9l2.8 1.1l1.2 2.2l-3.1 1l-3.3-0.6zM363.6 73.6l2.5-0.6l2.6-0.3l1.3 3.4l-2.7-1.1l-2.5 1.6zM416.4 119l2.5-0.9l2.6-0.8l1.3 3.4l-3.9 1.3zM402.2 140.3l3.9-0.5l3.8 2.2l-2.2 2l-2.9-0.8zM409.1 142.4l2.1-0.4l0 3.3l-1.8-0.4zM404.8 181.4l2.5 0l1.3 1.7l-2.5 0zM308.2 85.1l2.8 0.8l2.3-1.7l0 2.6l-3.8 0.4zM344.2 87.2l3.9-0.9l0.8 2.2l-3.4 0.4zM341.7 94.8l3.8-0.8l1.3 2.5l-3.9 0.9zM688.1 71.9l2.6 0.8l2.6-0.4l1.3 1.3l-2.6-0.2l-2.6 0.2zM474.8 109.3l4.7-0.5l2.5 2.2l-3.8 1.7zM931.3 364.8l1.5-3.8l1.3 0.4l-0.5 3.9l-0.5 3.4l-1.3-1.3zM933.9 367l0.8-3.4l0.7-3.9l0.3 2.6l-0.8 3.4zM936.5 364.8l0-4.2l1.2-2.1l0.8 2.9l-0.2 3zM934.9 366.1l1.3-1.7l0.8 1.3l-1.1 0.8zM933.4 354.2l1.5 1.3l0.5 1.7l-1.5-0.8z"/>
<path fill="#fff" d="M737.1 213.7l2.5-2.5l2.6-1.3l3.4-1.3l3.1-0.8l2.5 0.4l1.8 2.5l-1 3.8l-3.3 0.5l-1.3 2.9l-1.8 0.5l1.3 2.9l1.8 2.6l2.5 3l0.6 3.8l2 2.5l0.8 3l-2.1 2.5l1.3 3l0.8 4.3l0.5 2.9l-2.6 1.7l-2.5 1.3l-2.6-0.4l-2.6-2.6l-2.1-2.1l-0.7-3l1-4.2l0.5-3.4l2.1-0.4l-2.1-2.6l-1.8-3.4l-2.1-2.9l-1.2-3.4l-0.6-3.9l-1.2-2.1l0.5-3.8z"/>
<path fill="none" d="M299.7 199.3l20.1 0l25.7 0l25.3 0l0.5-1.7l1 2.9l4.1 0.5l3.9 2.1l3.9 0l2.5 0.4l1.6-1.3l4.9 3.4l4.1 2.6l1 1.7l2.6 2.1l0 0.9l2.6 2.1l0.8 5.5l-0.6 4.2l-1.5 3.4l1.3 2.2l3.8-2.2l5.2-2.5l0-3l3.9-0.4l2.5-0.9l1.3-2.1l2.6-3l5.2 0l3.8 0l1.8-1.7l1.3-2.5l0.8-3l2-2.9l2.4 0.4l1.2 1.3l0 5.1l1.1 2.1l1 1.2M252.8 111.8l0 19.5l0 20l4.6 0.8l4.4 4.7l2.6-1.7l2.6-1.3l2.5 2.6l2.6 2.5l3.4 6l1.8 2.5l3.3 1.7l0.5 3.4l-0.5 2.1M314.4 269.3l6.1-0.8l5.7 3.8l3.9 2.1l7.2 0l0-2.1l4.4 0l2.5 4.2l2.6 5.1l3.4 2.6l1.8-3.4l2.8 0l2.3 5.1l2.6 4.6l1 4.7l2.9 1.7l2 0M378.5 345.7l0.3-2.5l1-4.3l3.1 0l-1.3-4.6l0-2.6l4.6 0l2.3-2.5M386.2 331.7l0 8.1l1.1 0M388.5 340.6l-2.3 2.6l-0.2 3l-2.1 2.5M386 346.2l2 1.7l1.8 0.4l0 2.5M390.9 352.1l1.8-3.4l2.5-0.4l2.4-3.8l3.8-0.9M395.2 360.2l2.6 0.4l2.6 0.4M403.2 367l-0.8 2.5l0 3M416.6 370.8l-1.3 5.5M431.3 323.2l0 3.9l-0.3 4.2M431.8 354.7l-2.6 5.5l-1.2 5.5l1.2 6.4l1.3 4.6l3.9 0.9l2.6 3.4l5.1 0l-0.8 7.2l1.3 5.1l0.3 4.7l0.8 4.2M461.4 371.6l-3.1 4.7l2.4 2.1l-2.6 3.9l1.5 2.9M443.7 402.2l3.6 1.7l3.3-3l0.5-4.2l2.6-5.1l-3.9-2.1l4.4 0.8l3.4-1.7l2-3.4M459.6 385.2l1.8 0.9l0.6 3.4l0.7 2.9l-1 4.3l0.5 3l2.3 2.1l2.1-0.9l2.6-1.7l1.3 0M468.4 381.8l0.3 3.4l-1.6 3l-0.5 3l1.8 2.1l2.1 5.9M476.9 383.1l-1 3l0 4.2l1 2.1l-1.5 5.1M470.5 399.2l1.5-0.4l1.5-2.1l1.9 0.8l2 0l2.3 0.5M479.7 398l1.1-4.3l2-4.2l0.3-0.5M443.7 402.2l-1.6-3.4l-5.9 1.3l0 2.5l1.8 1.7l-2.3 0.9l0 2.9l1.3 3.4l-1.1 13.6M435.9 425.1l-2-1.7l1.5-4.6l-4.9-1.7l-3.1 0l-2.8-5.6l-2.6-3.8M422 407.7l-2.5-2.1l-3.1-1.3l-3.4-2.9M422 407.7l-0.7 6l-2.6 4.6l-3.6 1.7l-1.6 6.4l-2.5 0l-2.1-0.4l0.2-4.3M435.9 425.1l-4.9 1.3l-2.8 3l-0.8 3.8l-2 5.1l2.8 7.6l1.8 3.9l4.1-2.2l0 6.4l2.9 0M437 454l2 6.4l-0.7 5.1l-0.6 6.8l-0.5 5.1l-0.5 3.3M436.7 480.7l-2.1 4.3M437 454l3.1 0l4.3-4.7l3.4-0.4l-0.3 7.6l2.6 3.9l4.1 2.1l2.6 2.1l3.4 1.3l0.7 10.6l4.9 0l0.3 4.7l1 2.5l0 4.3l-1 3.4M436.7 480.7l1.6 6.8l1.2 4.7l0.8 6.4l1 5.5l1.6-0.4M442.9 503.7l2.3-3.8l2.8 1.2l2.1 3l1.3-3.4l3.1 0.9M454.5 501.6l1-7.3l1.3-3.8l7-1.3l2.3 2.2M466.1 491.4l0.7 3.8l0 5.9l3.7 0l2.3 2.2l0.5 5.9l2.1 0l0.7 2.5l-0.7 4.3M454.5 501.6l4.4 6.7l3.8 2.6l4.4 3.4l-2.1 8.5l5.5 1.3l1.5-0.9l3.4-7.2M475.4 516l2.3 2.5l-0.3 4.3l-3.1 3.4l-2 1.7l-4.7 7.6M467.6 535.5l4.1 2.6l3.7 2.9l2.3 2.6l1.3 2.5l-0.6 4.3M467.6 535.5l-1.3 7.7l-0.7 4.6l0 3.9M442.9 503.7l-0.3 5.5l-2.8 2.1l-0.3 7.7l-2.5 9.3l-1.3 8.5l-1.3 4.2l1 8.5l0.8 3.4l-1.8 7.2l-1.6 6.4l0.3 6.4l-2.1 6.3l0 7.7l0.8 7.2l0.5 8.5l-2.5 6.4l0 6.3l-2.6 5.6l2.6 4.2l3.3 3l6.4 1.2M593.1 229.4l1.8-0.4l4.1 0.4l1 1.3l-1.8 3l0 3.8l-1.5 1.7l1.3 2.5l-0.8 2.1l0.8 1.7l-1.3 2.6l0.2 1.3M611.4 223l1 1.7l5.4 1.3l2.8 1.3l3.6 0M635.3 221.3l0.3-1.7l-1.8-1.2l0.2-3l-0.5-2.5l0.5-0.5M634 212.4l-2-1.7l-0.3-1.2l2.3-3.4l1.6-0.9M634 212.4l2.4 0l1.5-1.7l2.1-0.4l2-0.4l0.8-1.7M635.6 205.2l2.3-0.4l2.8 0.8M640.7 205.6l0 1.7l2.1 0.9M635.6 205.2l0-3l1.5-2.9l-3.6-0.9l-1-1.3M632.5 197.1l-1.6 0l-2.5-2.1l-1.6 0l-2.6-3l-1.8-1.7M624.8 189.1l2.3 0l1.8-0.4l2 1.2l0.6 1.7M631.5 191.6l0.7 1.7l-0.5 1.3l0.8 2.5M631.5 191.6l0-4.2l2-0.9l0.5-2.1l0.5-3.4M638.2 174.2l2.3 0.4M652.6 178.5l0.5 2.9l-0.8 1.7l1.6 3l0 2.6l0.7 2.1M654.6 190.8l-1.8 0l-3.3 2.1l-1.8 1.3l0.5 2.1l3.3 4.2M651.5 200.5l-2 1.7l0 3.4l-2.6-0.4l-2.6 0.9l-1.5-0.5l-2.1 0M642.8 208.2l2.1 0l2.5-0.4l0.5 1.2l3.4 0.9M651.3 209.9l-0.3 2.1l0.3 1.7M651.3 209.9l2.3 0.4l2.6-1.3l1.3-0.8M657.5 208.2l1-2.6l1.5-2.1M651.5 200.5l2.4 0.5l0.7-1.7l2.9 1.2l2 0.5l0.5 2.5M654.6 190.8l2.6 1.7l1 1.2l1.3-0.4l2.1 1.3l2.1 0.8l0.7 1.7M664.4 197.1l-1.8 2.2l-2.3 0.8l-0.3 3.4M664.4 197.1l2.6 1.3l1.8-0.8l2.8 0l2.6 1.2M660 203.5l4.2 0.9l3.3-1.7l2.6-1.3l2.8 0.4M674.2 198.8l-1.3 3M674.2 198.8l0.5-2.5l3.1-3.4l-1-4.2M676.8 188.7l0.3-2.6l-1.3-1.7l1.8-2.1l-1.1-3.8M676.5 178.5l-1.8-2.2M674.7 176.3l-4.6 0l-3.1 0M674.7 176.3l-0.2-2.5l-3.6-1.3M676.5 178.5l2.6-0.5l3.1-1.2l2.3-4.3l0-1.7M670.4 169.1l3.6-1.3l5.1 0.5l5.4 2.5M684.5 170.8l4.1-2.1M678.9 161.5l2.8-0.4l4.6 2.1M688.6 168.7l-1-4.7l-1.3-0.8M686.3 163.2l0.5-3.4l0-3l1.8-1.7M688.6 168.7l4.7 1.7l2.6 3.4l-0.6 2.1l3.6 3.4l-2 2.1l2.8 0l-1.8 4.7M676.8 188.7l3.6-1.7l5.9 1.2l4.9 0.5l3.6 0.8l3.1-3.4M697.9 186.1l5.2-0.8l4.1 5.5l2.8 2.9l3.9 1.7l5.4 1.3l-0.8 3.8l0 3.9l-3.8 0.8l-0.3 2.1M684.5 202.2l3.1 0l3.6 2.2l2.1 5.9l-2.6 0.9l-2.1 2.9M675 203.5l4.4 0.4l5.1-1.7M688.6 214.1l3.9 1.3M672.9 201.8l2.1 1.7M684.5 202.2l3.1 5.1l0.8 3l0.2 3.8M675 203.5l-2.1 1.7l-2.3 5.1l-2.3 1.3M668.3 211.6l2.8 3.8l0.3 1.7l2.6 0.8l0.5 1.7M674.5 219.6l0.7 1.7l6.5 0.5l3.9-1.7l3.8 1.7M668.3 211.6l-3.6 0.8M664.7 212.4l-3.4-0.4l-2.8-2.1l-1-1.7M658.5 209.9l-2.1 1.3l-1 2.9l-2.3 0l-1.8 0M664.9 216.7l-5.1-1.3l-3.1 0l0 2.1l1 2.1l3.6 5.1l2.1 1.7M664.7 212.4l0.5 2.6l-0.3 1.7M664.9 216.7l1.1 2.5l0.2 3l-2 1.7l-0.8 2.5M674.5 219.6l-0.8 3l1.5 1.3l-1.5 3.8M673.7 227.7l-2.3 0l-2.3 1.7M666 229.4l1.8-3l1.3 3l-0.3 3.8l1.3 0.5l-0.8 3.4l-1.8 1.6M670.1 233.7l4.9-1.7M673.7 227.7l1.3 4.3M675 232l4.1-0.9l4.1 0.4l0.8-1.2M684 230.3l2.8-1.3l1.3 0M684 230.3l-0.3 3.4l-0.5 1.2M644.9 156.8l2-4.2l1.3-4.3l-0.8-2.5l0-6l4.4-4.2l0.8-5.1l2-4.3l3.1-5.5l4.4-2.1l5.4-4.2l1.3-0.5M668.8 113.9l3.4 2.6l4.3 2.5l0.8 4.7l0.5 4.2M668.8 113.9l3.9 0.5l7.7 1.7l2.6-4.7l5.1-1.7l3.1 2.1l-0.8 2.6M690.4 114.4l2.9-2.2l2-1.2M690.4 114.4l-1 3.4l3.6 2.1l-2 3.4l2.5 5.1l-1.3 3.4l2.4 2.9l-1.3 2.6l3.8 3l-3.8 4.6l-5.7 5.5M709 251.9l1.5-0.8l2.1 0.4l3.1 0l3.3-0.4l3.1-1.3l3.1 0l2.1-1.3l2.8 1.7l1.3-0.8M731.4 249.4l-1-4.7l-1.1-4.7l2.1-1.3M731.4 238.7l-2.8-1.6l-0.5-4.3M728.1 232.8l-2.4-2.1l-2.8 0.4M719 223l5.2 0.9l4.6 2.5l4.4 0.5l2.3 2.5M735.5 229.4l0.3 3.4l-3.9-0.8M731.9 232l-3.8 0.8M731.9 232l1.6 2.1l1 5.1l1.3 2.9M735.5 229.4l3.6 3l2.1-2.6M731.4 238.7l1.8 3l2.6 0.4l3.8-2.9l1.1 4.2l1.3 0.4M725.2 249.8l-3.1 3l0.5 3.4l-1 5.1l-5.7 4.2M715.9 265.5l-5.1 4.7l-2.8-1.7M708.5 260.4l1.8 1.7l-1.6 3.8l-1 0M706.4 266.8l1.3-0.9l0.3 2.6l-0.6 2.9l0 2.2l-0.7 5.1l-0.8 3.4M704.1 274.4l0.8 3.4l1 4.3M705.9 282.5l3.1 0.8l3.6-3.4l-1.3-6.3l5.2-2.2l0.5-0.4M715.9 265.5l1.1 5.5M717 271l3.1 0.9l4.3 3.4l6.7 8l4.7 0.5M735.8 283.8l2.3-4.3l1.5 0.4M735.8 283.8l3.1 2.5l2 0M731.4 249.4l1.6 5.1l1.8 3.8l-1.3 3.8l1.3 5.1l3.6 3l0.7 5.5l1.8 4.2M726.3 337.7l1.5-4.7l4.6 0.4l4.7 1.7l5.4-6.8l7.5-1.7M750 326.6l7.7-4.2l1.5-8.5l-1-3M750 326.6l2.8 9.8M748.9 304.6l2.6 5.5l6.7 0.8M758.2 310.9l1.5-6.3l1.1-3l0.2-3M746.9 302l1.2 1.3M741.2 209.5l-4.1-5.1l0.7-5.1l-1.2-1.3l1.8-4.7l3.1 2.1l5.4-7.6l5.6 0.9l5.2 3.3l6.4-1.2l5.2 1.7l5.1-2.6l-1.3-5.5l0-5.9l5.2-1.3l5.9-0.4l7.5-3l6.7-1.3l1 5.1l5.9 0.4l2.6 2.2l5.2-3l3.6 3.8l5.4 10.6l3.8 0l5.2-0.8l4.4 5.9l5.4 1.7M840.9 198.4l-3.9 3.4l-0.5 5.5l-6.7-0.4l-1.8 7.2l-4.6 2.1l-0.8 9M822.6 225.2l-3.1 0.4l-7.7-0.4l-4.7-1.3l-1.8 3l-6.4-0.5l-2.1 2.6M796.8 229l-4.1 5.5l-1.8-2.1l-3.6-3.4l-1.3-4.3l-2.8-2.9l-9.8-3l-6.7-5.1l-6.4 2.5l0 15.8M760.3 232l-3.4-3l-4.4-0.4l-1.3 1.2M760.3 232l2.5 0l4.2-6l3.6 2.1l4.9 4.7l1.2 4.7l4.2 4.6l6.4 6.4M754.8 248.9l4.2-2.9l4.6 0l4.9 2.5l3.1 3.8l2.1-0.4l-0.3 5.5M773.4 257.4l3.1 0l5.7-4.2l5.1-4.7M787.3 248.5l3.4 1.3M790.7 249.8l1.5-4.7l-1.8-5.9l4.1-4.7l3.4-1.3l-1.1-4.2M797.9 233.2l2.8-2.1l3.6 3l-3.3 2.5l-3.1 0M797.9 236.6l-3.4 0.9l3.1 1.7l8.3 0.8M805.9 240l0.5 3.8l2.5 0.5l0 5.1M790.7 249.8l4.3-2.1l2.1-2.2l3.3 4.7l0.6 1.3l3.8-3.4l4.1 1.3M805.9 240l8.2-6.8l3.3-0.4l5.2-3.8l0-3.8M773.4 257.4l-1.6 5.5l1.1 10.7l2.3 2.9l-2.3 4.3M772.9 280.8l4.1 2.1l2.1 8.9l-1.3 3.8l-3.1 4.7M772.9 280.8l8.2 2.1l5.7-2.5l1.5-6l6.2-2.5l2.6-6.4l-1-2.6l3.1-1.2l1-6.8l3.6-3.4l5.1-2.1M791.7 306.7l4.6-2.1l2.6-0.9l-2.1-5.5l0.3-5.5l-2.1 0l6-4.3l3-4.2l3.9-11.5l-0.2-4.7l2.5 2.2l-2.3-3l-1.8-5.5l1-1.7l9.3-3.4M808.9 249.4l2.9 5.1l4.6 2.1M816.4 256.6l2.8 5.1l-0.2 3.4l1 4.2l-1.8-0.4l0.5 4.7l6.2 5.5M824.9 279.1l3.1 0.4l4.1 3.4l4.9 4.7l5.9 1.2M824.9 279.1l-2.6 5.9l4.7 3.8l3.6 2.2l3.6 0.8l1.5 2.1l7.2 1.3l0-6.4M842.9 288.8l1.8-0.8l0.6 3.4M845.3 291.4l2.5-4.3l4.4 2.2l1 1.2M845.3 291.4l1.8 2.5l5.9-0.4l0.2-3M853.2 290.5l3.4-4.6l5.2-1.7l1.8-2.1l3 5M866.6 287.1l-0.5 5.1l-4.9 4.7l-1.5 3.4l-1.3 5.5l-2.1-0.8l0 4.7l-1.5 4.2l-1 2.1M845.5 314.7l-0.5-5.9l-2.1-5.5l0.3-5.5l4.1-0.9l0 3l6.7 1.3l-3.1 4.2l2.9 4.3l0 6.3M853.8 316l0.2 3.4M866.6 287.1l3.7 3.4l0 6.8l-2.6 7.7l3.1 3.8l1.5 1.3l-0.8 3.4l2.4 2.5l2.8 0.4M876.7 316.4l-1.6 2.6l-1.2 1.7M873.9 320.7l-3.1 3l-2.9 4.6l-0.2 3.4l2.6 6.4l-1.3 5.1l2.3 5.5l1.3 8.5l-2.1 5.9l-0.5 1.7M873.9 320.7l1 3.8l2 0l-0.7 8.5l2.8-3l3.4-0.8l3.3 4.2l0.3 4.3l2 3.4l-0.2 4.2M887.8 345.3l-3.1 0.9l-3.4 0.8l-1.8 3l1.6 7.6M887.8 345.3l1.3 2.6l3.8-2.2M892.9 345.7l-0.2-6.3l-2.1-4.3l-3.6-5.5l-3.1-4.7l2.3-3.8l-4.4-2.1l-2.8-6.8M876.7 316.4l1.5 0.9l0.8-5.1M879 312.2l3.6-0.9l4.7-2.9l3.6 2.1l-0.3 3.4l3.6 2.1M892.9 345.7l0.3 8.5l-4.1 3l-0.3 3.4l-3.9 2.5M873.9 380.1l2.3 2.6l2.6-1.7M898.3 398.8l1.1 3.4l4.6 0.9l3.1-2.2l4.6-0.8l-0.2-4.7l2.3-2.5l0-3.4l5.1 0M909.9 387.8l1.8 1.7l1.3-3M979.2 418.3l0 16.6l0 11M938 445.1l0.5 2.5M842.2 198.4l4.9-2.5l5.9-3.9l7.7 3l6.2 0.9l2.3-3l4.1-5.5l6 2.1l0.2 3l4.4 1.7l7.2-0.5l4.4 3.9l5.9 0.8l5.7-2.1l4.9-2.1l4.6 1.7M842.2 198.4l2 4.3l4.9 2.9l1.3 6.4l-0.2 3.4l6.7 1.3l4.9 2.9l2.5 6.4l9.3 0.4l7.7 2.6l5.2 1.7l6.4-3.4l5.2 0l5.9-5.5l0.3-5.6l4.3 1.3l6.2-4.2l3.6-3.8l5.9-0.5l-3-4.6l-1.8-0.9l-6-0.4l3.1-7.2M840.9 198.4l1.3 0M916.6 195.9l3.1 1.2l3.6-3.4l3.9-9.7l-1.8-0.9l5.4-2.5l3.6-0.4l3.9 1.2l3 4.3l2.6 6.3l0.8 3.9l4.9 1.7l2.8 2.1l0.8 5.1l4.1-0.4l1.6-1.3l3.3-1.3l1.6 3l-2.4 2.1l-0.7 4.3l-1.8 4.6l-3.1-0.8l-2.1 1.7l0.5 5.9l-1.5 5.1M952.7 227.7l-2.1-3l-2.3 4.3l-2.3 0l-0.3 1.7l-2.8-0.9l-2.3 3.9l-2.9 1.7l-1.2 2.1M940.8 247.2l2.4-2.5l3.3-1.3M610.3 258.3l1.1 2.5l1.8 8.1l-6.5 4.2l-0.2 3l-3.9 3.8l-9 5.1l0 4.7M593.6 289.7l-11.1 0M593.6 291.4l0 5.5l-8.5 0l0 10.6l-2.6 2.2l-0.2 7.2l-10.1 0M593.6 291.4l10 9.8M603.6 301.2l-4.3 0l2.5 36l0.5 4.3l-10.3 0l-3.6 0.4l-2-0.8l-1.8 3.4M573.5 338.9l5.1-2.1l2.9 2.1l3.1 5.6M584.6 344.5l0.5 4.6l1.5 5.6M572.7 349.6l4.7-0.9l3.1 1.3l-3.1 1.3l-4.7 0.4M573 354.7l3.8-1.3l3.9 0.4M580.7 353.8l3.6 1.3l2.3-0.4M580.7 353.8l0 3.8l-2.6 0.9l-0.7 2.5M586.6 354.7l1.8 1.7l3.6-2.2l2.6 6.4l0.8 3.4M581.7 368.7l2.1-3.4l3.3-0.5l1.6 3.9l0.8 2.5M589.5 371.2l2 0.4l0.5 4.3l2.4-0.9M589.5 371.2l-3.1 6.8M594.4 375l1.8-3.4l-0.8-7.6M594.4 375l-0.3 4.7l2.6 3l0 5.9M595.4 364l4.6-2.1l1.8 1.2M601.8 363.1l3.1 3.4l3.9-0.4M608.8 366.1l0.2 7.2l-1.2 7.3l0.2 5M601.8 363.1l0-5.9l2.9-3.8l1-3l3.9-3.8l4.6-3.4l2.3 0.8M608.8 366.1l-0.3-5.5l6.2-0.4l1.3 0M616 360.2l1.3 4.6l-0.3 6.4l0.8 6.4l1.3 3.8M618.1 360.6l1.5 4.2l0.5 4.3l0.3 6.4l0 5.5M616 360.2l2.1 0.4l4.1-3.8M616.5 344l2.3 6.8l2.6 2.6l0.8 3.4M616.5 344l8.5-2.1l1.8-6.4l0-9.7M626.8 325.8l-2.6-2.6l-3.6-2.1l-17-19.9M626.8 325.8l4.1-1.3l16-17M622.2 356.8l3.1 0.8M625.3 357.6l0.5 5.1l-2.6 6.4l-0.2 11M625.3 357.6l1.3-7.6l7.4 2.1l5.2 0.9l5.1-2.2l5.2-0.8l1.5-0.9M651 349.1l4.9-13.6l1.1-14.8l-2.4-11M646.9 307.5l-5.1-4.2l-1.3-7.7l1-6.3l-0.3-9.4l-0.7-1.2M646.9 307.5l7.7 2.2M640.5 278.7l-1.3-7.7l-3.9-7.6l2.1-4.7l-0.3-6.4l1.1-1.7M640.5 278.7l2-6l3.1-3.4l0.3-2.5M654.6 309.7l23.2 14.8M680.4 313.9l0-30.6l-0.8-4.2l1.3-6M677.8 324.5l0-2.1l2.6 0l0-8.5M680.4 313.9l16.5 0l14.2 0M677.8 324.5l0 16.1l-2.8 0l-1 6.8l-0.6 6l1.8 7.6M651 349.1l1.3 5.1M652.3 354.2l2.3 4.3l1.3 6.3l-3.8 0.5l3.8 10.2M652.3 354.2l-0.8 6.4l-2.3 6.8l-2.8 10.2l-3.4 0l-2.5 2.1l-2.3 7.2M655.9 375.5l2.6-0.9l5.4-1.7l1.3-3.8l4.9-2.1l3.9-6l1.2 0M655.9 375.5l-2.8 6.3l0.8 6l3.8 10.2M641.2 397.5l3.9 0.5M645.1 398l5.2 0M650.3 398l7.4 0M640.7 403.1l4.4 0l0-5.1M650.3 398l3.1 3.8l-1.6 4.7l1.6 3.8l-0.3 5.1l-3.6 2.1l-2.8 0l-0.3 4.7l-1.8 1.7M657.7 398l0.8-5.6l5.4 0M663.9 392.4l-1.5 4.7l-0.5 9.4l-3.4 8l-1.5 9.8l-3.6 3.8l-3.9-1.3l-2.1 5.1M663.9 392.4l0-3.8l2.3-3l7.5 4.3l5.4-4.3l7.5 0M675.2 361l2.6 9.4l2.9 5.1l3.3 4.2l2.6 5.9M647.4 431.9l2.1 0.4l9.3 0l2.3 9.4l4.9-0.4l2.8-4.3l3.4 1.3l0.5 15.7l5.1 0l0 6.4M646.9 428.5l1.6-2.1l1.2 0.4M677.8 460.4l-5.1 2.1l0 14l3.6 5.5M646.4 480.7l5.4 0.5l11.6 0l7.7 2.5l5.2-1.7M670.1 485l0 15.7l-2.6 0l0 11.9M667.5 512.6l0 15.3l-6.7 1.2l-2.3-0.4M667.5 512.6l2.1 8.5l4.9-5.5l5.1 1.2l3.1-4.6l2.9-4.7l3.3-4.2l2.8-1.7M681.2 482.9l2.3 8l3.9 3.4l4.3 7.3M676.3 482l4.9 0.9M681.2 482.9l4.4 0.4l4.8-8.5l3.9-1.3M691.7 501.6l4.9 0.8M694.3 473.5l6.2 4.7l0.5 9.8l-0.8 6.8l-3.6 7.6M696.6 502.4l1.8 8.9l0 6.4l0.3 3.4l2.1 0M698.4 517.7l-2.5 0l-0.6 3.4l1.8 2.1l1.6-2.1M689.7 528.7l2 4.3l-3.1 2.9l-3-2.9l2-3l2.1-1.3M677.8 460.4l0-6.4l3.6 2.5l3.9 1.3l3.9 2.6l3.6 3.8l0-5.1l-3.6-1.3l0.5-10.2l5.4-5.5M695.1 442.1l5.7 5.1M700.8 447.2l1 6l-1.6 11.8l1.3 1.7M701.5 466.7l-7.7 3.4l0.5 3.4M701.5 466.7l3.6 2.2l3.1 6.3l-1.8 4.7l-1.8-3.4l0.5-20M700.8 447.2l2.8 0.4l1.5 8.9M705.1 456.5l7.5 0.5l2.6-1.3l4.9-3.8M695.1 442.1l-3.1-5.9l-0.5-9.8M691.5 426.4l-0.8-7.2M691.5 426.4l3.8-5.1l-0.7-3.8M690.7 419.2l3.9-1.7M694.6 417.5l0.7-6M690.7 419.2l1.5-6M692.2 413.2l0.8-8.4l2.9-7.3l-0.6-5.1M692.2 413.2l3.1-1.7M695.3 411.5l8.3 0M703.6 411.5l0-5.5l2.6-5.1l-1.6-9.3l-1-2.1M703.6 411.5l9.3 8.5l0.2 3l3.9 4.3M695.3 392.4l3.1-0.4l5.2-2.5M686.6 385.6l5.4 3l3.3 3.8M677.8 370.4l6.5-3.4l3.8 0.8l3.9-3l3.9 0.9l3.6-8.1l2-2.1l-0.2 6.4l2.5 5.1M703.8 367l-2.8 6.3l2.1 2.2l3.1 8.4l2.3 3.9M703.6 389.5l4.9-1.7M708.5 387.8l2.8 0.8l2.8 3.4l3.7 0.9l3.8-2.2l2.3 0M723.9 390.7l-2.3 4.7l0 15.3l1.6 3.8M723.9 390.7l3.6-3.8l4.4-0.8l7.7-12.8l-2.5 0l-7.8-4.2l-3-8.1M703.8 367l0.6-4.3l2-5.5l2.6-3.8l0.8-7.2M709.8 346.2l3.8-2.2l2.9 1.3l3.1 0.4l3.8 6l1.8 2.5M709.8 346.2l1.3-8.1l4.3-7.2M725.2 354.2l-1.5 6.4l2.6 0.4l1-2.5M882.9 401.4l1-0.5M881.1 357.6l0.2 1.7"/>
<path fill="none" stroke-width="3.2" d="M297.9 201l-1-3.4l-2.9-1.7l-2.8-1.9l-2.4-2.4l-1.8-2.3l-1.2-2.8l-2.9-2l-0.5-3.5l-0.7-2.8l-1.9-2.3l-0.9-2.3l-1.6-1.9l-0.9-3.3l-3-1.4l-2.9-1.1l-0.5-3.1l-3-3M629.4 154.7l-0.6-3.2l0.1-3.2l0.5-2.6l1-2.5l2.3-2.3l2.6-1.9l1.8-2.9l3.4-0.1l2.7-1.4l1.1-2.8l0.4-3.3l3-1.4l2-2.3l1.1-2.8l0.7-2.5l1.9-1.7l1.7-1.8l2.1-1.2l3.3-0.7l1.9-2.7l2.9-1.9l3.5 0.2l3.2-1.3l3.2-1.3l3.1-1.4l3.4 0.2M426.7 585.6l-0.8 2.8l-0.6 2.9l-0.7 2.8l-0.5 2.6l0.3 2.8l-0.9 2.6l-0.2 2.6l-0.7 2.8l0.5 3l-1.1 2.7l-0.6 2.9l0.5 2.8l0.9 2.8l0.3 2.7l0.9 2.6l1.4 2.3l1.7 2.2l1.1 2.6l2.3 1.6M196.1 174.2l-2.3 1.8l-2.8 0.8l-2.8 1.1l-2.4 1.8l-3 0.9l-2.1 2.1M218 160.2l-1.9 2.9l-3.2 1.4l-2.8 1.8l-2.4 2.4l-3 0.7l-2.1 2.3l-2.4 1.7l-2.8 0.4M559.3 108.8l-2.4-2.3l-2.7-1.9l2.6-1.3l0-3l0.4-2.6l2.1-1.6l0.3-2.7l2.3-1.5M482 131.3l-0.9-3.6l-2.4-2.7l1.6-3.1l-0.8-3.3l2.9-2l-0.4-3.5M371.3 91.9l2.5 0.7l2.7-2.2l2.5 1.9l2.4 1.5l2.9-1.8l2.4 1.1l2.6 0.4l2.5 0.8l2.7-0.7M399.6 111.8l1.3 3.8l3.9 0.9l1.3 4.2M415.1 99.5l2.5 1.2l3.1-0.6l2.1 2.4l2.6 1.1l2.5 1.3l2.6 1l2.8 2.4l3.7 0.5l2.8 1.3l1 3l2 2l3.5 0.3l1 3.2M306.9 84.6l2.8 1.6l2.1-4.1l2.8 1.7l2.6-0.4l2.7-1l2.5 0.7l2.6 0.8l2.5 0.7l2.5-1.2l2.6-0.1l2.6-0.1l2.6 0.6M384.2 68.5l2.5 0.8l2 2.6l3.2-0.9l3.1 0.3l2 2.3M931.8 358.5l1.8 1.2l2.3-2.5l2.1 0M930.8 353l2-0.5l2.1 1.3l1.8 0M869.5 372.5l0-2.8l0.8-2.7l0.7-4.3"/>
<path fill="none" stroke-width="3" d="M409.9 168.7h0M411.7 166.6h0M409.4 153.4h0M411.2 142.8h0M404.8 141.5h0M418.9 137.7h0M448.6 146.2h0M449.8 150.4h0M409.9 182.3h0M410.4 185.3h0M457.6 205.6h0M461.4 220.9h0M471 208.2h0M425.4 318.6h0M426.7 311.8h0M421.5 305.4h0M420.2 303.3h0M416.4 305.4h0M430.5 315.2h0M406.6 325.4h0M449.1 329.6h0M453.7 330.5h0M457.1 334.7h0M457.6 338.5h0M458.9 345.3h0M458.3 351.3h0M462.7 351.3h0M457.1 355.9h0M438.3 355.5h0M440.1 355.5h0M435.7 354.2h0M391.9 383.9h0M405.5 354.2h0M334.2 522.4h0M407.9 550.4h0M547.7 655.2h0M550.3 343.6h0M554.2 339.4h0M556.8 342.8h0M542.6 243.8h0M545.9 243h0M550.3 246.8h0M536.1 239.6h0M573.5 287.1h0M576.1 288.4h0M579.9 286.3h0M581 284.2h0M570.1 285.5h0M572.2 268.5h0M633 406h0M635.1 400.5h0M638.4 392.4h0M601.3 475.2h0M578.9 440.8h0M584.3 564.8h0M759 496.9h0M764.4 493.5h0M779.3 490.9h0M727.5 457h0M730.4 459.1h0M732.2 461.6h0M735 447.2h0M759 427.3h0M752.5 430.7h0M802.5 438.3h0M804.6 389.5h0M804.3 405.2h0M805.3 409.8h0M803.5 362.3h0M804 372.1h0M865.4 459.1h0M888.3 451.9h0M815.6 567.8h0M713.4 606.4h0M749.2 604.3h0M855.1 364.8h0M855.6 368.2h0M857.1 375.5h0M857.6 377.6h0M866.6 398.4h0M863 396.3h0M869.7 411.5h0M871.5 414.9h0M874.1 419.2h0M874.6 420.9h0M879.5 430.2h0M894.2 390.7h0M889.6 394.1h0M883.9 403.1h0M885.2 403.9h0M893.7 419.6h0M895 420h0M939.3 414.9h0M936.7 414.5h0M932.8 413.7h0M945.2 413.7h0M944.2 410.3h0M946.5 397.5h0M942.6 390.3h0M939.3 392.4h0M950.9 408.1h0M952.2 414.9h0M962.5 432.8h0M962 434.9h0M954.7 439.6h0M950.4 440.8h0M944.7 440.8h0M940.6 440.4h0M934.4 443h0M932.8 443h0M965.8 411.1h0M967.6 414.9h0M930.3 354.2h0M931.8 355.1h0M933.4 360.6h0M934.4 363.6h0M935.2 365.7h0M936.2 361.4h0M937.5 363.6h0M930.5 365.3h0M925.6 356.4h0M924.9 355.1h0M927.7 381.8h0M925.4 385.2h0M924.6 386.5h0M930 320.7h0M930 324.5h0M941.9 265.5h0M948 287.1h0M949.6 286.7h0M945.5 294.8h0M945 296.1h0M938.8 302h0M935.9 303.7h0M934.9 304.1h0M951.9 278.2h0M953.5 277.4h0M975.1 260h0M976.1 266.8h0M982.3 292.7h0M980 302h0M991.3 343.2h0M989 350.4h0M962.5 375.9h0M971.7 367h0M1007 375.9h0M1023.5 378h0M1035.9 384.8h0M1048 370.4h0M1057 377.2h0M1052.6 359.7h0M1061.6 401.4h0M1065.5 409.4h0M994.4 416.2h0M995.4 415.8h0M1001.9 413.7h0M1004.2 447.2h0M1005 449.3h0M1008.8 446.4h0M1011.4 455.3h0M1013.2 456.1h0M1027.9 456.5h0M1033.1 451.9h0M1043.1 452.7h0M1045.9 456.5h0M1049.3 477.4h0M1049.8 482.4h0M1051.9 487.1h0M1052.6 490.1h0M1047.2 468h0M1045.4 463.8h0M1049 472.7h0M1047.5 503.3h0M1048.8 498.6h0M1046.7 495.6h0M1044.9 493.9h0M1077.9 443.4h0M1072.5 460.4h0M1079.4 479.5h0M1076.8 487.5h0M1083.5 481.6h0M1092 496.9h0M1095.1 486.3h0M1091.5 491.4h0M1099.5 465h0M1101.1 466.3h0M1103.4 468h0M1074.5 531.3h0M1048.5 530.4h0M1025.8 541h0M1088.7 594.1h0M1044.9 622.1h0M1051.9 630.2h0M1025.3 639.1h0M1076.6 618.3h0M667.5 68.9h0M688.1 66.8h0M701 66.8h0M664.9 91.4h0M594.1 105.9h0M762.8 62.6h0M744.8 64.3h0M775.7 64.7h0M783.4 63.4h0M814.4 69.8h0M850.4 62.6h0M863.3 62.6h0M891.6 75.3h0M904.5 82.5h0M966.3 93.1h0M979.2 84.6h0M1007.6 83.8h0M1033.3 110.1h0M1043.6 172.9h0M770.6 110.5h0M769.3 108.8h0M796.3 95.7h0M806.6 97.4h0M813.1 96.5h0M829.8 92.3h0M837.5 90.2h0M819.5 80.4h0M827.2 85.9h0M394.5 74h0M358.4 82.5h0M368.7 77.4h0M330.1 75.3h0M323.6 76.6h0M332.6 73.2h0M319.8 95.7h0M353.2 85.5h0M370 87.6h0M412.5 100.3h0M425.4 105.9h0M373.9 79.5h0M344.2 96.5h0M363.6 88h0M449.8 142h0M498.8 151.7h0M519.4 129.2h0M559.3 135.2h0M569.6 125.8h0M563.7 138.1h0M598 143.6h0M598.5 145.8h0M612.7 150.9h0M612.9 153h0M608.3 156.8h0M607.8 157.2h0M598 161.9h0M600 160.2h0M599.8 164h0M600.5 167.4h0M600 170.4h0M604.4 177.2h0M604.7 181h0M654.6 173.4h0M674 158.9h0M674.7 157.2h0M667.5 151.7h0M659.3 166.1h0M643.6 173.8h0M645.4 174.6h0M647.9 174.2h0M643 172.9h0M645.9 164h0M631.5 142h0M637.9 136.9h0M645.6 131.3h0M648.2 125h0M653.4 117.3h0M655.9 114.8h0M659.8 113.1h0M664.9 110.1h0M675.2 106.3h0M652.1 234.5h0M642.5 225.6h0M653.4 254.9h0M646.9 251.1h0M669.3 245.1h0M669.1 246.8h0M667.3 239.2h0M679.1 246.4h0M680.9 250.2h0M681.4 252.8h0M683 244.7h0M684.3 240.9h0M685.6 247.2h0M688.1 253.6h0M682.5 237.5h0M679.4 234.5h0M676.5 243.4h0M685.6 256.6h0M746.1 296.5h0M760.3 293.5h0M724.2 336h0M719 340.2h0M753.8 354.2h0M750.5 355.5h0M767.5 320.3h0M802.8 320.7h0M795 312.6h0M820.8 368.2h0M852.5 313.9h0M849.6 312.6h0M856.9 323.2h0M857.6 327.5h0M869.2 374.2h0M873.1 380.6h0M868.4 364.8h0M881.3 363.6h0M883.9 364h0M890.6 370.4h0M892.4 319h0M908.9 313.5h0M930.8 279.5h0M929.8 273.6h0M923.8 307.5h0M920.5 303.7h0M931.6 241.3h0M937.5 239.2h0M940.6 261.7h0M941.9 260.4h0M944.4 260.8h0M947.3 259.6h0M952.9 248.1h0M955.8 249.4h0M949.1 261.3h0M972.5 246h0M959.1 253.6h0M979.7 215.4h0M984.4 184.4h0M970.2 175.9h0M971.5 173.8h0M1016.6 193.7h0M1012.7 200.1h0M1008.8 206.5h0M1005 211.2h0M1001.1 214.1h0M997.2 216.2h0M993.4 219.6h0M1037.2 157.7h0M1039.8 156h0M170.4 150.4h0M177.3 164.5h0M179.1 167h0M202.6 173.8h0M205.1 174.2h0M212.3 169.5h0M216.7 166.1h0M236 151.7h0M238.6 150.9h0M221.1 159.8h0M224.4 158.5h0M188.4 152.6h0M1034.2 688.9h0M1040.6 693.5h0M203.5 314.1h0M204.8 391.2h0M209.9 399.8h0M173.4 420.2h0M165.7 427.3h0M172.5 426.6h0M215.9 424.8h0M213.5 431.5h0M170.8 443.9h0M174.3 447.2h0M224.1 456.2h0M254.6 445.8h0M257 449.4h0M258.3 452.1h0M161.3 464h0M156.4 468h0M171.5 465.8h0M175.2 468h0M240.9 476.2h0M245.5 478.1h0M248.2 475.9h0M225 478.4h0M230 482.3h0M252.8 484.1h0M263.2 485.9h0M154.2 480.8h0M155.1 484.1h0M152 488.1h0M155.5 489h0M167 486.6h0M177.6 488.5h0M154.7 495.4h0M164.2 497.8h0M203.5 497.6h0M258.4 496h0M284.7 510.9h0M333.6 522.8h0M412.1 550.5h0M329.4 327.8h0M310.3 284h0M340.9 315.6h0M535.1 240.5h0M543.6 243.9h0M545.5 244.2h0M549.6 247.3h0M551 250.7h0M571.7 268.5h0M570 288.1h0M573.4 288.9h0M576 287.6h0M578.5 286.4h0M551.3 335.7h0M555.5 338.2h0M553.8 343.8h0M552 344.5h0M448.8 270.4h0M598 144.4h0M612.5 151.2h0M611.5 154.5h0M462 351.8h0M461.2 221.3h0M452.7 332.3h0M455.2 336.5h0M456.9 341.6h0M457.8 346.7h0M457.5 351h0M456.1 356.1h0M619.3 242.2h0M624.4 238.8h0M1045.8 173.6h0M1047.5 174.6h0M1061.8 183.1h0M1063.5 184.2h0M1076 187.2h0M1078.5 187.6h0M1012.7 199.1h0M1009.9 203.9h0M1007 207.6h0M1002.3 212.9h0M996.7 217.1h0M949.4 287.9h0M947.8 290.8h0M945.7 294.5h0M975.9 267.1h0M982.1 294.1h0M991.3 327.5h0M991.3 330.4h0M991.3 338.3h0M990.6 343.6h0M989.5 347.4h0M988.7 350.8h0M971.7 367.2h0M962.7 375.7h0M1007 376.3h0M1023.7 378.4h0M1035.9 384.8h0M1046.1 360.2h0M1050.8 376.6h0M1058 377.6h0M1053.3 382.7h0M1061.4 394.6h0M953.8 394.6h0M941.5 266.2h0M953.2 248.6h0M959.5 253.9h0M803.3 360h0M803.9 372.3h0M804.8 389.7h0M804.8 393.5h0M758.7 427.5h0M802.3 438.8h0M728.3 456.7h0M729.8 459h0M731.2 461.4h0M758.9 497.3h0M764.2 493.5h0M865.4 459.2h0M888.1 452h0M855.8 372.7h0M857.7 377.4h0M862.4 395.4h0M867.1 402.9h0M869.9 413.3h0M872.8 420.8h0M879 430.3h0M888.8 394.4h0M894.5 391.6h0"/>
</g>
<circle cx="321.4" cy="177.4" r="9.4" fill="#e0a848"/>
<circle cx="378" cy="268" r="9.4" fill="#447b1f"/>
<circle cx="365.1" cy="324.6" r="9.4" fill="#e0a848"/>
<circle cx="373.7" cy="324.6" r="9.4" fill="#e0a848"/>
<circle cx="505.6" cy="434.6" r="9.4" fill="#447b1f"/>
<circle cx="484.2" cy="515.5" r="9.4" fill="#e0a848"/>
<circle cx="498.6" cy="503.9" r="9.4" fill="#447b1f"/>
<circle cx="473" cy="554.6" r="9.4" fill="#a8cf3a"/>
<circle cx="595.6" cy="216" r="9.4" fill="#e0a848"/>
<circle cx="602.2" cy="240.6" r="9.4" fill="#e0a848"/>
<circle cx="630.9" cy="192.9" r="9.4" fill="#7b7265"/>
<circle cx="647.4" cy="194.6" r="9.4" fill="#447b1f"/>
<circle cx="652.6" cy="234.3" r="9.4" fill="#447b1f"/>
<circle cx="691.4" cy="197.7" r="9.4" fill="#a8cf3a"/>
<circle cx="708.6" cy="192.9" r="9.4" fill="#e0a848"/>
<circle cx="712.6" cy="176.9" r="9.4" fill="#e0a848"/>
<circle cx="730.6" cy="160.3" r="9.4" fill="#e0a848"/>
<circle cx="717.1" cy="235.1" r="9.4" fill="#7b7265"/>
<circle cx="722.9" cy="268.6" r="9.4" fill="#7b7265"/>
<circle cx="720" cy="314.3" r="9.4" fill="#7b7265"/>
<circle cx="753.5" cy="252.9" r="9.4" fill="#e0a848"/>
<circle cx="748.6" cy="252.6" r="9.4" fill="#447b1f"/>
<circle cx="824.3" cy="288" r="9.4" fill="#7b7265"/>
<circle cx="825.7" cy="294.3" r="9.4" fill="#7b7265"/>
<circle cx="836.6" cy="297.1" r="9.4" fill="#7b7265"/>
<circle cx="848.5" cy="305.3" r="9.4" fill="#e0a848"/>
<circle cx="694.9" cy="523.4" r="9.4" fill="#a8cf3a"/>
<circle cx="693.6" cy="533" r="9.4" fill="#a8cf3a"/>
<circle cx="1070.4" cy="569.1" r="9.4" fill="#a8cf3a"/>
<circle cx="1068.7" cy="579.1" r="9.4" fill="#a8cf3a"/>
<circle cx="1057.5" cy="591" r="9.4" fill="#a8cf3a"/>
<circle cx="948" cy="207.3" r="9.4" fill="#447b1f"/>
<circle cx="918.3" cy="226.8" r="9.4" fill="#a8cf3a"/>
<circle cx="927.3" cy="225.6" r="9.4" fill="#7b7265"/>
<circle cx="937.5" cy="229.8" r="9.4" fill="#447b1f"/>
<circle cx="930.3" cy="225.6" r="9.4" fill="#a8cf3a"/>
<circle cx="945.4" cy="227.4" r="9.4" fill="#e0a848"/>
<circle cx="921.5" cy="241.5" r="9.4" fill="#e0a848"/>
<circle cx="925.5" cy="236" r="9.4" fill="#e0a848"/>
<circle cx="873.8" cy="240.6" r="9.4" fill="#7b7265"/>
<circle cx="883" cy="243.5" r="9.4" fill="#7b7265"/>
<circle cx="885.4" cy="258.5" r="9.4" fill="#a8cf3a"/>
<circle cx="893.8" cy="260.3" r="9.4" fill="#7b7265"/>
<circle cx="896.2" cy="258.5" r="9.4" fill="#a8cf3a"/>
<circle cx="896.8" cy="251.3" r="9.4" fill="#e0a848"/>
<circle cx="898.6" cy="242.9" r="9.4" fill="#7b7265"/>
<circle cx="905.4" cy="247.7" r="9.4" fill="#7b7265"/>
<circle cx="902.5" cy="268.7" r="9.4" fill="#e0a848"/>
<circle cx="883" cy="277.3" r="9.4" fill="#e0a848"/>
<circle cx="926.7" cy="264.5" r="9.4" fill="#e0a848"/>
<circle cx="927.9" cy="274.6" r="9.4" fill="#e0a848"/>
<circle cx="898" cy="326.8" r="9.4" fill="#447b1f"/>
<circle cx="902.8" cy="289.6" r="9.4" fill="#447b1f"/>
<circle cx="905.8" cy="292" r="9.4" fill="#7b7265"/>
<circle cx="915.3" cy="296.8" r="9.4" fill="#7b7265"/>
<circle cx="880.1" cy="307.5" r="9.4" fill="#7b7265"/>
<circle cx="878.3" cy="298.6" r="9.4" fill="#a8cf3a"/>
<circle cx="888.4" cy="296.2" r="9.4" fill="#e0a848"/>
<circle cx="896.2" cy="327.8" r="9.4" fill="#7b7265"/>
<circle cx="902.2" cy="317.1" r="9.4" fill="#7b7265"/>
<circle cx="895" cy="302.1" r="9.4" fill="#447b1f"/>
<circle cx="905.2" cy="309.3" r="9.4" fill="#447b1f"/>
<circle cx="915.3" cy="307.5" r="9.4" fill="#447b1f"/>
<circle cx="927.9" cy="306.3" r="9.4" fill="#447b1f"/>
<circle cx="875.5" cy="328.4" r="9.4" fill="#e0a848"/>
<rect x="109" y="566.5" width="445.8" height="227.5" fill="#fff"/>
<circle cx="126.5" cy="672" r="9.4" fill="#7b7265"/>
<text x="158.8" y="682.3" font-size="32.5">Abandoned land 223 (33)</text>
<circle cx="126.5" cy="707.1" r="9.4" fill="#e0a848"/>
<text x="158.8" y="717.4" font-size="32.5">Farmed land 246 (39)</text>
<circle cx="126.5" cy="742.3" r="9.4" fill="#a8cf3a"/>
<text x="158.8" y="752.6" font-size="32.5">Grassed land 92 (14)</text>
<circle cx="126.5" cy="777.5" r="9.4" fill="#447b1f"/>
<text x="158.8" y="787.8" font-size="32.5">Forested land 116 (21)</text>
<text x="116.2" y="597.1" font-size="32.5">Preceding land use type before</text>
<text x="116.2" y="635.1" font-size="32.5">afforestation and reforestation</text>
</g>
<rect x="104.5" y="17.6" width="1049.2" height="786.5" fill="none" stroke="#333" stroke-width="1.2"/>
<line x1="358.4" x2="358.4" y1="804.1" y2="810.6" stroke="#333" stroke-width="2.1"/>
<line x1="616" x2="616" y1="804.1" y2="810.6" stroke="#333" stroke-width="2.1"/>
<line x1="873.6" x2="873.6" y1="804.1" y2="810.6" stroke="#333" stroke-width="2.1"/>
<line x1="1131.2" x2="1131.2" y1="804.1" y2="810.6" stroke="#333" stroke-width="2.1"/>
<line x1="98" x2="104.5" y1="195" y2="195" stroke="#333" stroke-width="2.1"/>
<line x1="98" x2="104.5" y1="407.3" y2="407.3" stroke="#333" stroke-width="2.1"/>
<rect x="83.9" y="679.4" width="6.1" height="2.7" fill="#333"/>
<text x="384.6" y="849.4" font-size="32.5" text-anchor="end">−100</text>
<text x="614.8" y="849.4" font-size="32.5" text-anchor="middle">0</text>
<text x="862.6" y="849.4" font-size="32.5" text-anchor="middle">100</text>
<text x="1120.6" y="849.4" font-size="32.5" text-anchor="middle">200</text>
<text x="85.6" y="206.4" font-size="32.5" text-anchor="end">50</text>
<text x="83.8" y="418.4" font-size="32.5" text-anchor="end">0</text>
<text x="73.7" y="690.6" font-size="32.5" text-anchor="end">−50</text>
<text x="637.3" y="881.2" font-size="32.7" text-anchor="middle">Longitude (°)</text>
<text transform="translate(36.3 363.5) rotate(-90)" font-size="32.7" text-anchor="middle">Latitude (°)</text>
<text transform="translate(0.3 31.6) scale(1.035 1)" font-size="35" font-weight="bold">(a)</text>
</g>
<g id="panel-b">
<path d="M1333.3 66.3 L1338.2 77.2 L1343.2 87.8 L1348.1 98.3 L1353 108.6 L1357.9 118.8 L1362.9 128.8 L1367.8 138.6 L1372.7 148.3 L1377.6 157.9 L1382.6 167.2 L1387.5 176.5 L1392.4 185.6 L1397.4 194.5 L1402.3 203.3 L1407.2 212 L1412.1 220.5 L1417.1 228.9 L1422 237.2 L1426.9 245.4 L1431.8 253.4 L1436.8 261.2 L1441.7 269 L1446.6 276.6 L1451.5 284.1 L1456.5 291.5 L1461.4 298.8 L1466.3 306 L1471.3 313 L1476.2 319.9 L1481.1 326.8 L1486 333.5 L1491 340.1 L1495.9 346.6 L1500.8 353 L1505.7 359.3 L1510.7 365.5 L1515.6 371.6 L1520.5 377.6 L1525.5 383.5 L1530.4 389.3 L1535.3 395 L1540.2 400.6 L1545.2 406.1 L1550.1 411.5 L1555 416.9 L1559.9 422.1 L1564.9 427.3 L1569.8 432.4 L1574.7 437.4 L1579.7 442.3 L1584.6 447.1 L1589.5 451.9 L1594.4 456.6 L1599.4 461.2 L1604.3 465.7 L1609.2 470.1 L1614.1 474.5 L1619.1 478.8 L1624 483 L1628.9 487.2 L1633.8 491.2 L1638.8 495.2 L1643.7 499.2 L1648.6 503 L1653.6 506.8 L1658.5 510.6 L1663.4 514.2 L1668.3 517.8 L1673.3 521.4 L1678.2 524.8 L1683.1 528.2 L1688 531.6 L1693 534.9 L1697.9 538.1 L1702.8 541.2 L1707.8 544.3 L1712.7 547.4 L1717.6 550.3 L1722.5 553.2 L1727.5 556.1 L1732.4 558.9 L1737.3 561.6 L1742.2 564.3 L1747.2 566.9 L1752.1 569.5 L1757 572 L1761.9 574.5 L1766.9 576.9 L1771.8 579.2 L1776.7 581.5 L1781.7 583.8 L1786.6 586 L1791.5 588.1 L1796.4 590.2 L1801.4 592.2 L1806.3 594.2 L1811.2 596.1 L1816.1 598 L1821.1 599.8 L1826 601.6 L1830.9 603.3 L1835.9 605 L1840.8 606.7 L1845.7 608.3 L1850.6 609.8 L1855.6 611.3 L1860.5 612.7 L1865.4 614.1 L1870.3 615.5 L1875.3 616.8 L1880.2 618.1 L1885.1 619.3 L1890.1 620.5 L1895 621.7 L1899.9 622.8 L1904.8 623.9 L1909.8 624.9 L1914.7 625.9 L1919.6 626.9 L1924.5 627.8 L1929.5 628.7 L1934.4 629.6 L1939.3 630.4 L1944.2 631.2 L1949.2 632 L1954.1 632.8 L1959 633.5 L1964 634.2 L1968.9 634.9 L1973.8 635.5 L1978.7 636.1 L1983.7 636.7 L1988.6 637.3 L1993.5 637.9 L1998.4 638.4 L2003.4 638.9 L2008.3 639.4 L2013.2 639.9 L2018.2 640.3 L2023.1 640.8 L2028 641.2 L2032.9 641.6 L2037.9 642 L2042.8 642.4 L2047.7 642.8 L2052.6 643.2 L2057.6 643.5 L2062.5 643.8 L2067.4 644.2 L2072.3 644.5 L2077.3 644.8 L2082.2 645.1 L2087.1 645.3 L2092.1 645.6 L2097 645.9 L2101.9 646.1 L2106.8 646.4 L2111.8 646.6 L2116.7 646.9 L2121.6 647.1 L2126.5 647.3 L2128.5 647.4 L2128.5 733.9 L2126.5 733.6 L2121.6 732.9 L2116.7 732.2 L2111.8 731.6 L2106.8 730.9 L2101.9 730.2 L2097 729.5 L2092.1 728.8 L2087.1 728.1 L2082.2 727.3 L2077.3 726.6 L2072.3 725.9 L2067.4 725.1 L2062.5 724.4 L2057.6 723.6 L2052.6 722.9 L2047.7 722.1 L2042.8 721.4 L2037.9 720.6 L2032.9 719.8 L2028 719 L2023.1 718.3 L2018.2 717.5 L2013.2 716.7 L2008.3 715.9 L2003.4 715.1 L1998.4 714.3 L1993.5 713.5 L1988.6 712.7 L1983.7 711.9 L1978.7 711.1 L1973.8 710.3 L1968.9 709.5 L1964 708.7 L1959 708 L1954.1 707.2 L1949.2 706.4 L1944.2 705.6 L1939.3 704.8 L1934.4 704.1 L1929.5 703.3 L1924.5 702.5 L1919.6 701.8 L1914.7 701.1 L1909.8 700.3 L1904.8 699.6 L1899.9 698.9 L1895 698.2 L1890.1 697.5 L1885.1 696.8 L1880.2 696.1 L1875.3 695.5 L1870.3 694.8 L1865.4 694.2 L1860.5 693.5 L1855.6 692.9 L1850.6 692.3 L1845.7 691.7 L1840.8 691.1 L1835.9 690.6 L1830.9 690 L1826 689.5 L1821.1 689 L1816.1 688.5 L1811.2 688 L1806.3 687.5 L1801.4 687 L1796.4 686.5 L1791.5 686.1 L1786.6 685.7 L1781.7 685.2 L1776.7 684.8 L1771.8 684.4 L1766.9 684 L1761.9 683.7 L1757 683.3 L1752.1 682.9 L1747.2 682.6 L1742.2 682.3 L1737.3 681.9 L1732.4 681.6 L1727.5 681.3 L1722.5 681 L1717.6 680.7 L1712.7 680.5 L1707.8 680.2 L1702.8 679.9 L1697.9 679.7 L1693 679.4 L1688 679.2 L1683.1 679 L1678.2 678.7 L1673.3 678.5 L1668.3 678.3 L1663.4 678.1 L1658.5 677.9 L1653.6 677.7 L1648.6 677.5 L1643.7 677.3 L1638.8 677.2 L1633.8 677 L1628.9 676.8 L1624 676.7 L1619.1 676.5 L1614.1 676.3 L1609.2 676.2 L1604.3 676 L1599.4 675.9 L1594.4 675.8 L1589.5 675.6 L1584.6 675.5 L1579.7 675.4 L1574.7 675.3 L1569.8 675.1 L1564.9 675 L1559.9 674.9 L1555 674.8 L1550.1 674.7 L1545.2 674.6 L1540.2 674.5 L1535.3 674.4 L1530.4 674.3 L1525.5 674.2 L1520.5 674.1 L1515.6 674 L1510.7 673.9 L1505.7 673.9 L1500.8 673.8 L1495.9 673.7 L1491 673.6 L1486 673.5 L1481.1 673.5 L1476.2 673.4 L1471.3 673.3 L1466.3 673.3 L1461.4 673.2 L1456.5 673.1 L1451.5 673.1 L1446.6 673 L1441.7 672.9 L1436.8 672.9 L1431.8 672.8 L1426.9 672.8 L1422 672.7 L1417.1 672.7 L1412.1 672.6 L1407.2 672.6 L1402.3 672.5 L1397.4 672.5 L1392.4 672.4 L1387.5 672.4 L1382.6 672.3 L1377.6 672.3 L1372.7 672.2 L1367.8 672.2 L1362.9 672.2 L1357.9 672.1 L1353 672.1 L1348.1 672.1 L1343.2 672 L1338.2 672 L1333.3 671.9 Z" fill="#ebebeb"/>
<line x1="1294" x2="2170" y1="700" y2="700" stroke="#000" stroke-width="1.8" stroke-dasharray="23.3 24.1"/>
<line x1="1333.4" x2="1333.4" y1="794.5" y2="31.5" stroke="#000" stroke-width="2.5" stroke-dasharray="23.4 24.03"/>
<path d="M1333.3 501.8 L1338.2 503.9 L1343.2 506.1 L1348.1 508.2 L1353 510.3 L1357.9 512.4 L1362.9 514.5 L1367.8 516.6 L1372.7 518.6 L1377.6 520.7 L1382.6 522.7 L1387.5 524.7 L1392.4 526.7 L1397.4 528.7 L1402.3 530.6 L1407.2 532.6 L1412.1 534.5 L1417.1 536.4 L1422 538.3 L1426.9 540.2 L1431.8 542 L1436.8 543.9 L1441.7 545.7 L1446.6 547.6 L1451.5 549.4 L1456.5 551.2 L1461.4 553 L1466.3 554.7 L1471.3 556.5 L1476.2 558.2 L1481.1 559.9 L1486 561.7 L1491 563.4 L1495.9 565.1 L1500.8 566.7 L1505.7 568.4 L1510.7 570 L1515.6 571.7 L1520.5 573.3 L1525.5 574.9 L1530.4 576.5 L1535.3 578.1 L1540.2 579.7 L1545.2 581.2 L1550.1 582.8 L1555 584.3 L1559.9 585.9 L1564.9 587.4 L1569.8 588.9 L1574.7 590.4 L1579.7 591.8 L1584.6 593.3 L1589.5 594.8 L1594.4 596.2 L1599.4 597.6 L1604.3 599.1 L1609.2 600.5 L1614.1 601.9 L1619.1 603.3 L1624 604.6 L1628.9 606 L1633.8 607.4 L1638.8 608.7 L1643.7 610.1 L1648.6 611.4 L1653.6 612.7 L1658.5 614 L1663.4 615.3 L1668.3 616.6 L1673.3 617.9 L1678.2 619.1 L1683.1 620.4 L1688 621.6 L1693 622.9 L1697.9 624.1 L1702.8 625.3 L1707.8 626.5 L1712.7 627.7 L1717.6 628.9 L1722.5 630.1 L1727.5 631.3 L1732.4 632.4 L1737.3 633.6 L1742.2 634.7 L1747.2 635.9 L1752.1 637 L1757 638.1 L1761.9 639.2 L1766.9 640.3 L1771.8 641.4 L1776.7 642.5 L1781.7 643.6 L1786.6 644.6 L1791.5 645.7 L1796.4 646.7 L1801.4 647.8 L1806.3 648.8 L1811.2 649.8 L1816.1 650.9 L1821.1 651.9 L1826 652.9 L1830.9 653.9 L1835.9 654.9 L1840.8 655.8 L1845.7 656.8 L1850.6 657.8 L1855.6 658.7 L1860.5 659.7 L1865.4 660.6 L1870.3 661.6 L1875.3 662.5 L1880.2 663.4 L1885.1 664.3 L1890.1 665.2 L1895 666.1 L1899.9 667 L1904.8 667.9 L1909.8 668.8 L1914.7 669.6 L1919.6 670.5 L1924.5 671.4 L1929.5 672.2 L1934.4 673.1 L1939.3 673.9 L1944.2 674.7 L1949.2 675.6 L1954.1 676.4 L1959 677.2 L1964 678 L1968.9 678.8 L1973.8 679.6 L1978.7 680.4 L1983.7 681.2 L1988.6 681.9 L1993.5 682.7 L1998.4 683.5 L2003.4 684.2 L2008.3 685 L2013.2 685.7 L2018.2 686.5 L2023.1 687.2 L2028 687.9 L2032.9 688.6 L2037.9 689.4 L2042.8 690.1 L2047.7 690.8 L2052.6 691.5 L2057.6 692.2 L2062.5 692.9 L2067.4 693.5 L2072.3 694.2 L2077.3 694.9 L2082.2 695.6 L2087.1 696.2 L2092.1 696.9 L2097 697.5 L2101.9 698.2 L2106.8 698.8 L2111.8 699.5 L2116.7 700.1 L2121.6 700.7 L2126.5 701.4 L2128.5 701.6" fill="none" stroke="#000" stroke-width="4.6"/>
<g fill="none" stroke="#ff0000" stroke-width="1.7">
<circle cx="1395.6" cy="289" r="11.4"/>
<circle cx="1395.6" cy="390.5" r="11.4"/>
<circle cx="1395.6" cy="592.7" r="11.4"/>
<circle cx="1395.6" cy="601.6" r="11.4"/>
<circle cx="1395.6" cy="582.2" r="11.4"/>
<circle cx="1393.6" cy="523" r="11.4"/>
<circle cx="1393.6" cy="554.2" r="11.4"/>
<circle cx="1395.4" cy="532.3" r="11.4"/>
<circle cx="1695.2" cy="608.6" r="11.4"/>
<circle cx="1695.2" cy="632.5" r="11.4"/>
<circle cx="1695.2" cy="656.4" r="11.4"/>
<circle cx="1695.2" cy="660.7" r="11.4"/>
<circle cx="1695.2" cy="691.7" r="11.4"/>
<circle cx="1695.2" cy="755.4" r="11.4"/>
<circle cx="1781.6" cy="702.3" r="11.4"/>
<circle cx="1880.5" cy="693.6" r="26.2"/>
<circle cx="1880.5" cy="699.8" r="25.2"/>
<circle cx="1886" cy="439.4" r="11.4"/>
<circle cx="1886" cy="458.6" r="11.4"/>
<circle cx="1886" cy="465.6" r="11.4"/>
<circle cx="1886" cy="522.2" r="11.4"/>
<circle cx="1886" cy="524.8" r="11.4"/>
<circle cx="1886" cy="540.4" r="11.4"/>
<circle cx="1886" cy="566.3" r="11.4"/>
<circle cx="1886" cy="597.8" r="11.4"/>
<circle cx="1886" cy="619.7" r="11.4"/>
<circle cx="1924.6" cy="478.7" r="11.4"/>
<circle cx="1924.6" cy="492.8" r="11.4"/>
<circle cx="1924.6" cy="603.6" r="11.4"/>
<circle cx="1932.4" cy="553.2" r="11.4"/>
<circle cx="1932.4" cy="572.6" r="11.4"/>
<circle cx="1932.4" cy="609.1" r="11.4"/>
<circle cx="1932.4" cy="610.4" r="11.4"/>
<circle cx="1927.1" cy="645.1" r="11.4"/>
<circle cx="1927.1" cy="658.2" r="11.4"/>
<circle cx="1927.1" cy="673.8" r="11.4"/>
<circle cx="1927.1" cy="688.4" r="11.4"/>
<circle cx="1927.1" cy="702.3" r="11.4"/>
<circle cx="1927.1" cy="706" r="11.4"/>
<circle cx="1927.1" cy="712.8" r="11.4"/>
<circle cx="1961.3" cy="687.2" r="11.4"/>
<circle cx="1961.3" cy="692.2" r="11.4"/>
<circle cx="1972.4" cy="624.7" r="11.4"/>
<circle cx="1971.1" cy="631.8" r="11.4"/>
<circle cx="1972.4" cy="643.1" r="11.4"/>
<circle cx="1970.6" cy="664" r="11.4"/>
<circle cx="1971.1" cy="706" r="11.4"/>
<circle cx="1971.1" cy="722.4" r="11.4"/>
<circle cx="1971.1" cy="732.5" r="11.4"/>
<circle cx="1971.1" cy="747.6" r="11.4"/>
<circle cx="1971.1" cy="757.7" r="11.4"/>
<circle cx="1971.1" cy="759.7" r="11.4"/>
<circle cx="1982.5" cy="664" r="11.4"/>
<circle cx="1982.5" cy="674.1" r="11.4"/>
<circle cx="1998.3" cy="737" r="11.4"/>
<circle cx="1998.3" cy="742.5" r="11.4"/>
<circle cx="1998.3" cy="755.1" r="11.4"/>
<circle cx="2072.3" cy="609.6" r="11.4"/>
<circle cx="2072.3" cy="612.9" r="11.4"/>
<circle cx="2072.3" cy="628" r="11.4"/>
<circle cx="2072.3" cy="633" r="11.4"/>
<circle cx="2072.3" cy="639.3" r="11.4"/>
<circle cx="2128.5" cy="735.5" r="11.4"/>
<circle cx="2128.5" cy="746.3" r="11.4"/>
<circle cx="2128.5" cy="754.4" r="11.4"/>
<circle cx="1927" cy="256.3" r="11.4"/>
</g>
<path d="M1294 31.5 V794.5 H2168.7" fill="none" stroke="#000" stroke-width="1.7" stroke-linecap="square"/>
<line x1="1287.3" x2="1294" y1="700" y2="700" stroke="#000" stroke-width="1.7"/>
<text x="1255.7" y="716.4" font-size="36" text-anchor="middle">0</text>
<line x1="1287.3" x2="1294" y1="537.7" y2="537.7" stroke="#000" stroke-width="1.7"/>
<text x="1255.7" y="554.1" font-size="36" text-anchor="middle">200</text>
<line x1="1287.3" x2="1294" y1="375.4" y2="375.4" stroke="#000" stroke-width="1.7"/>
<text x="1255.7" y="391.8" font-size="36" text-anchor="middle">400</text>
<line x1="1287.3" x2="1294" y1="213.1" y2="213.1" stroke="#000" stroke-width="1.7"/>
<text x="1255.7" y="229.5" font-size="36" text-anchor="middle">600</text>
<line x1="1287.3" x2="1294" y1="50.8" y2="50.8" stroke="#000" stroke-width="1.7"/>
<text x="1255.7" y="67.2" font-size="36" text-anchor="middle">800</text>
<line x1="1333.3" x2="1333.3" y1="794.5" y2="801.2" stroke="#000" stroke-width="1.7"/>
<text x="1333.3" y="834.3" font-size="36" text-anchor="middle">0</text>
<line x1="1579.7" x2="1579.7" y1="794.5" y2="801.2" stroke="#000" stroke-width="1.7"/>
<text x="1579.7" y="834.3" font-size="36" text-anchor="middle">500</text>
<line x1="1826" x2="1826" y1="794.5" y2="801.2" stroke="#000" stroke-width="1.7"/>
<text x="1830.7" y="834.3" font-size="36" text-anchor="middle">1000</text>
<line x1="2072.3" x2="2072.3" y1="794.5" y2="801.2" stroke="#000" stroke-width="1.7"/>
<text x="2077" y="834.3" font-size="36" text-anchor="middle">1500</text>
<text x="1716" y="893.5" font-size="40" text-anchor="middle">Elevation (m)</text>
<text transform="translate(1203 400.3) rotate(-90)" font-size="33.8" text-anchor="middle">Effect size on soil MBN:MBP (%)</text>
<text x="1867.8" y="90.6" font-size="40">n = 70</text>
<text x="1868.5" y="138" font-size="40">Q<tspan font-size="23" dy="15.3">m</tspan><tspan dy="-15.3"> = 4.258</tspan></text>
<text x="1868.8" y="186.3" font-size="39.8"><tspan font-style="italic">p</tspan> = 0.039</text>
<text transform="translate(1173.3 31) scale(1.085 1)" font-size="35" font-weight="bold">(b)</text>
</g>
<g id="panel-c">
<line x1="315.4" x2="315.4" y1="984" y2="1509.3" stroke="#000" stroke-width="3" stroke-dasharray="11.7 11.93" stroke-dashoffset="7.3"/>
<path d="M319.1 1058.4 H377.8 M319.1 1045.8 V1071 M377.8 1045.8 V1071" stroke="#000" stroke-width="3.2" fill="none"/>
<circle cx="348.2" cy="1058.4" r="13.9" fill="#5f8a93"/>
<line x1="334.3" x2="362.1" y1="1058.4" y2="1058.4" stroke="#000" stroke-width="3.2"/>
<text transform="translate(344.2 1040.3) scale(1 0.81)" font-size="31.4" font-weight="bold" text-anchor="middle">*</text>
<text x="625" y="1067" font-size="24.8" text-anchor="middle">148(32)</text>
<line x1="170.8" x2="177.4" y1="1058.4" y2="1058.4" stroke="#333" stroke-width="2.6"/>
<text x="166.5" y="1066.1" font-size="22.1" text-anchor="end">Abandoned land</text>
<path d="M451.2 1183.8 H569 M451.2 1171.2 V1196.4 M569 1171.2 V1196.4" stroke="#000" stroke-width="3.2" fill="none"/>
<circle cx="510" cy="1183.8" r="13.9" fill="#5f8a93"/>
<line x1="496.1" x2="523.9" y1="1183.8" y2="1183.8" stroke="#000" stroke-width="3.2"/>
<text transform="translate(514.3 1167.8) scale(1 0.81)" font-size="31.4" font-weight="bold" text-anchor="middle">***</text>
<text x="625" y="1192.4" font-size="24.8" text-anchor="middle">177( 37)</text>
<line x1="170.8" x2="177.4" y1="1183.8" y2="1183.8" stroke="#333" stroke-width="2.6"/>
<text x="166.5" y="1191.5" font-size="22.1" text-anchor="end">Farmed land</text>
<path d="M272.1 1309.2 H388.5 M272.1 1296.6 V1321.8 M388.5 1296.6 V1321.8" stroke="#000" stroke-width="3.2" fill="none"/>
<circle cx="330.1" cy="1309.2" r="13.9" fill="#5f8a93"/>
<line x1="316.2" x2="344" y1="1309.2" y2="1309.2" stroke="#000" stroke-width="3.2"/>
<text x="625" y="1317.8" font-size="24.8" text-anchor="middle">52(13)</text>
<line x1="170.8" x2="177.4" y1="1309.2" y2="1309.2" stroke="#333" stroke-width="2.6"/>
<text x="166.5" y="1316.9" font-size="22.1" text-anchor="end">Grassed land</text>
<path d="M365.3 1434.6 H443 M365.3 1422 V1447.2 M443 1422 V1447.2" stroke="#000" stroke-width="3.2" fill="none"/>
<circle cx="403.8" cy="1434.6" r="13.9" fill="#5f8a93"/>
<line x1="389.9" x2="417.7" y1="1434.6" y2="1434.6" stroke="#000" stroke-width="3.2"/>
<text transform="translate(406.2 1419.4) scale(1 0.81)" font-size="31.4" font-weight="bold" text-anchor="middle">***</text>
<text x="625" y="1443.2" font-size="24.8" text-anchor="middle">79(20)</text>
<line x1="170.8" x2="177.4" y1="1434.6" y2="1434.6" stroke="#333" stroke-width="2.6"/>
<text x="166.5" y="1442.3" font-size="22.1" text-anchor="end">Forested land</text>
<rect x="177.4" y="984" width="507.7" height="525.3" fill="none" stroke="#333" stroke-width="1.4"/>
<line x1="199.6" x2="199.6" y1="1509.3" y2="1515.9" stroke="#333" stroke-width="2.6"/>
<text x="199.6" y="1535" font-size="21.8" text-anchor="middle">−100</text>
<line x1="315.4" x2="315.4" y1="1509.3" y2="1515.9" stroke="#333" stroke-width="2.6"/>
<text x="315.4" y="1535" font-size="21.8" text-anchor="middle">0</text>
<line x1="431.1" x2="431.1" y1="1509.3" y2="1515.9" stroke="#333" stroke-width="2.6"/>
<text x="431.1" y="1535" font-size="21.8" text-anchor="middle">100</text>
<line x1="546.9" x2="546.9" y1="1509.3" y2="1515.9" stroke="#333" stroke-width="2.6"/>
<text x="546.9" y="1535" font-size="21.8" text-anchor="middle">200</text>
<line x1="662.6" x2="662.6" y1="1509.3" y2="1515.9" stroke="#333" stroke-width="2.6"/>
<text x="662.6" y="1535" font-size="21.8" text-anchor="middle">300</text>
<text x="431.2" y="1580.7" font-size="22.2" text-anchor="middle">Effect size (%)</text>
<text x="176.6" y="955.7" font-size="26.4">Soil MBC</text>
<text x="466.5" y="1466.5" font-size="24">Q<tspan font-size="16.5">m</tspan> = 1026.87</text>
<text x="466.5" y="1495.4" font-size="24"><tspan font-style="italic">p</tspan> &lt; <tspan font-weight="bold">0.001</tspan></text>
<text transform="translate(-1 954.8) scale(1.085 1)" font-size="35" font-weight="bold">(c)</text>
</g>
<g id="panel-d">
<line x1="1022.6" x2="1022.6" y1="984" y2="1509.3" stroke="#000" stroke-width="3" stroke-dasharray="11.7 11.93" stroke-dashoffset="7.3"/>
<path d="M1072.5 1058.4 H1205.4 M1072.5 1045.8 V1071 M1205.4 1045.8 V1071" stroke="#000" stroke-width="3.2" fill="none"/>
<circle cx="1138.8" cy="1058.4" r="13.9" fill="#5f8a93"/>
<line x1="1124.9" x2="1152.7" y1="1058.4" y2="1058.4" stroke="#000" stroke-width="3.2"/>
<text transform="translate(1140.8 1040.3) scale(1 0.81)" font-size="31.4" font-weight="bold" text-anchor="middle">***</text>
<text x="1377.7" y="1067" font-size="24.8" text-anchor="middle">73(19)</text>
<line x1="901.2" x2="907.8" y1="1058.4" y2="1058.4" stroke="#333" stroke-width="2.6"/>
<text x="896.9" y="1066.1" font-size="22.1" text-anchor="end">Abandoned land</text>
<path d="M1136.4 1183.8 H1339.5 M1136.4 1171.2 V1196.4 M1339.5 1171.2 V1196.4" stroke="#000" stroke-width="3.2" fill="none"/>
<circle cx="1237.9" cy="1183.8" r="13.9" fill="#5f8a93"/>
<line x1="1224" x2="1251.8" y1="1183.8" y2="1183.8" stroke="#000" stroke-width="3.2"/>
<text transform="translate(1236 1167.8) scale(1 0.81)" font-size="31.4" font-weight="bold" text-anchor="middle">***</text>
<text x="1377.7" y="1192.4" font-size="24.8" text-anchor="middle">67(16)</text>
<line x1="901.2" x2="907.8" y1="1183.8" y2="1183.8" stroke="#333" stroke-width="2.6"/>
<text x="896.9" y="1191.5" font-size="22.1" text-anchor="end">Farmed land</text>
<path d="M976.5 1309.2 H1113.5 M976.5 1296.6 V1321.8 M1113.5 1296.6 V1321.8" stroke="#000" stroke-width="3.2" fill="none"/>
<circle cx="1044.5" cy="1309.2" r="13.9" fill="#5f8a93"/>
<line x1="1030.6" x2="1058.4" y1="1309.2" y2="1309.2" stroke="#000" stroke-width="3.2"/>
<text x="1377.7" y="1317.8" font-size="24.8" text-anchor="middle">30(6)</text>
<line x1="901.2" x2="907.8" y1="1309.2" y2="1309.2" stroke="#333" stroke-width="2.6"/>
<text x="896.9" y="1316.9" font-size="22.1" text-anchor="end">Grassed land</text>
<path d="M982.4 1434.6 H1058.8 M982.4 1422 V1447.2 M1058.8 1422 V1447.2" stroke="#000" stroke-width="3.2" fill="none"/>
<circle cx="1020.3" cy="1434.6" r="13.9" fill="#5f8a93"/>
<line x1="1006.4" x2="1034.2" y1="1434.6" y2="1434.6" stroke="#000" stroke-width="3.2"/>
<text x="1377.7" y="1443.2" font-size="24.8" text-anchor="middle">40(14)</text>
<line x1="901.2" x2="907.8" y1="1434.6" y2="1434.6" stroke="#333" stroke-width="2.6"/>
<text x="896.9" y="1442.3" font-size="22.1" text-anchor="end">Forested land</text>
<rect x="907.8" y="984" width="508" height="525.3" fill="none" stroke="#333" stroke-width="1.4"/>
<line x1="930.1" x2="930.1" y1="1509.3" y2="1515.9" stroke="#333" stroke-width="2.6"/>
<text x="930.1" y="1535" font-size="21.8" text-anchor="middle">−100</text>
<line x1="1022.6" x2="1022.6" y1="1509.3" y2="1515.9" stroke="#333" stroke-width="2.6"/>
<text x="1022.6" y="1535" font-size="21.8" text-anchor="middle">0</text>
<line x1="1115.2" x2="1115.2" y1="1509.3" y2="1515.9" stroke="#333" stroke-width="2.6"/>
<text x="1115.2" y="1535" font-size="21.8" text-anchor="middle">100</text>
<line x1="1207.7" x2="1207.7" y1="1509.3" y2="1515.9" stroke="#333" stroke-width="2.6"/>
<text x="1207.7" y="1535" font-size="21.8" text-anchor="middle">200</text>
<line x1="1300.2" x2="1300.2" y1="1509.3" y2="1515.9" stroke="#333" stroke-width="2.6"/>
<text x="1300.2" y="1535" font-size="21.8" text-anchor="middle">300</text>
<line x1="1392.8" x2="1392.8" y1="1509.3" y2="1515.9" stroke="#333" stroke-width="2.6"/>
<text x="1392.8" y="1535" font-size="21.8" text-anchor="middle">400</text>
<text x="1161.8" y="1580.7" font-size="22.2" text-anchor="middle">Effect size (%)</text>
<text x="907" y="960.4" font-size="26.4">Soil MBN</text>
<text x="1165" y="1466.5" font-size="24">Q<tspan font-size="16.5">m</tspan> = 22.81</text>
<text x="1165" y="1495.4" font-size="24"><tspan font-style="italic">p</tspan> &lt; <tspan font-weight="bold">0.001</tspan></text>
<text transform="translate(732.3 953.2) scale(1.085 1)" font-size="35" font-weight="bold">(d)</text>
</g>
<g id="panel-e">
<line x1="1752.9" x2="1752.9" y1="984" y2="1509.3" stroke="#000" stroke-width="1.9" stroke-dasharray="11.7 11.93" stroke-dashoffset="7.3"/>
<path d="M1843.5 1058.4 H2026 M1843.5 1045.8 V1071 M2026 1045.8 V1071" stroke="#000" stroke-width="3.2" fill="none"/>
<circle cx="1934.8" cy="1058.4" r="13.9" fill="#5f8a93"/>
<line x1="1920.9" x2="1948.7" y1="1058.4" y2="1058.4" stroke="#000" stroke-width="3.2"/>
<text transform="translate(1937.1 1040.3) scale(1 0.81)" font-size="31.4" font-weight="bold" text-anchor="middle">***</text>
<text x="2060.3" y="1067" font-size="24.8" text-anchor="start">27(8)</text>
<line x1="1631.5" x2="1638.1" y1="1058.4" y2="1058.4" stroke="#333" stroke-width="2.6"/>
<text x="1627.2" y="1066.1" font-size="22.1" text-anchor="end">Abandoned land</text>
<path d="M1772.8 1183.8 H1902.9 M1772.8 1171.2 V1196.4 M1902.9 1171.2 V1196.4" stroke="#000" stroke-width="3.2" fill="none"/>
<circle cx="1837.5" cy="1183.8" r="13.9" fill="#5f8a93"/>
<line x1="1823.6" x2="1851.4" y1="1183.8" y2="1183.8" stroke="#000" stroke-width="3.2"/>
<text transform="translate(1839.9 1167.8) scale(1 0.81)" font-size="31.4" font-weight="bold" text-anchor="middle">**</text>
<text x="2060.3" y="1192.4" font-size="24.8" text-anchor="start">30(6)</text>
<line x1="1631.5" x2="1638.1" y1="1183.8" y2="1183.8" stroke="#333" stroke-width="2.6"/>
<text x="1627.2" y="1191.5" font-size="22.1" text-anchor="end">Farmed land</text>
<path d="M1695.9 1309.2 H1765.9 M1695.9 1296.6 V1321.8 M1765.9 1296.6 V1321.8" stroke="#000" stroke-width="3.2" fill="none"/>
<circle cx="1730.7" cy="1309.2" r="13.9" fill="#5f8a93"/>
<line x1="1716.8" x2="1744.6" y1="1309.2" y2="1309.2" stroke="#000" stroke-width="3.2"/>
<text x="2060.3" y="1317.8" font-size="24.8" text-anchor="start">15(3)</text>
<line x1="1631.5" x2="1638.1" y1="1309.2" y2="1309.2" stroke="#333" stroke-width="2.6"/>
<text x="1627.2" y="1316.9" font-size="22.1" text-anchor="end">Grassed land</text>
<path d="M1669.6 1434.6 H1722.1 M1669.6 1422 V1447.2 M1722.1 1422 V1447.2" stroke="#000" stroke-width="3.2" fill="none"/>
<circle cx="1695.5" cy="1434.6" r="13.9" fill="#5f8a93"/>
<line x1="1681.6" x2="1709.4" y1="1434.6" y2="1434.6" stroke="#000" stroke-width="3.2"/>
<text transform="translate(1697.9 1419.4) scale(1 0.81)" font-size="31.4" font-weight="bold" text-anchor="middle">**</text>
<text x="2060.3" y="1443.2" font-size="24.8" text-anchor="start">6(1)</text>
<line x1="1631.5" x2="1638.1" y1="1434.6" y2="1434.6" stroke="#333" stroke-width="2.6"/>
<text x="1627.2" y="1442.3" font-size="22.1" text-anchor="end">Forested land</text>
<rect x="1638.1" y="984" width="507.7" height="525.3" fill="none" stroke="#333" stroke-width="1.4"/>
<line x1="1660.4" x2="1660.4" y1="1509.3" y2="1515.9" stroke="#333" stroke-width="2.6"/>
<text x="1660.4" y="1535" font-size="21.8" text-anchor="middle">−100</text>
<line x1="1752.9" x2="1752.9" y1="1509.3" y2="1515.9" stroke="#333" stroke-width="2.6"/>
<text x="1752.9" y="1535" font-size="21.8" text-anchor="middle">0</text>
<line x1="1845.5" x2="1845.5" y1="1509.3" y2="1515.9" stroke="#333" stroke-width="2.6"/>
<text x="1845.5" y="1535" font-size="21.8" text-anchor="middle">100</text>
<line x1="1938" x2="1938" y1="1509.3" y2="1515.9" stroke="#333" stroke-width="2.6"/>
<text x="1938" y="1535" font-size="21.8" text-anchor="middle">200</text>
<line x1="2030.6" x2="2030.6" y1="1509.3" y2="1515.9" stroke="#333" stroke-width="2.6"/>
<text x="2030.6" y="1535" font-size="21.8" text-anchor="middle">300</text>
<line x1="2123.1" x2="2123.1" y1="1509.3" y2="1515.9" stroke="#333" stroke-width="2.6"/>
<text x="2123.1" y="1535" font-size="21.8" text-anchor="middle">400</text>
<text x="1892" y="1580.7" font-size="22.2" text-anchor="middle">Effect size (%)</text>
<text x="1637.3" y="955.7" font-size="26.4">Soil MBP</text>
<text x="1880" y="1466.5" font-size="24">Q<tspan font-size="16.5">m</tspan> = 35.15</text>
<text x="1880" y="1495.4" font-size="24"><tspan font-style="italic">p</tspan> &lt; <tspan font-weight="bold">0.001</tspan></text>
<text transform="translate(1477.8 954.8) scale(1.085 1)" font-size="35" font-weight="bold">(e)</text>
</g>
</svg></body></html>
